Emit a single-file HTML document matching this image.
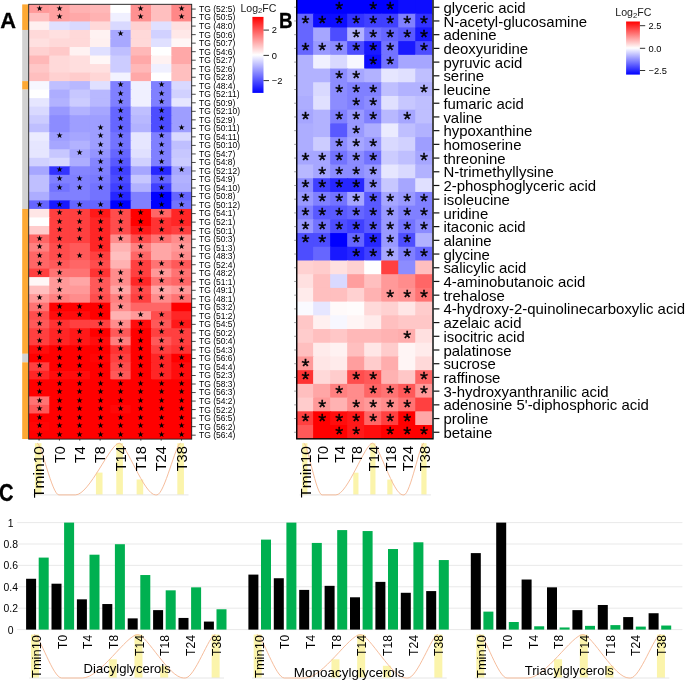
<!DOCTYPE html>
<html lang="en"><head><meta charset="utf-8"><title>Figure</title>
<style>
html,body{margin:0;padding:0;background:#fff;}
body{width:685px;height:680px;overflow:hidden;}
svg{display:block;}
text{font-family:"Liberation Sans",sans-serif;fill:#000;}
.star{font-family:"DejaVu Sans","Liberation Sans",sans-serif;}
.lab{fill:#1a1a1a;}
</style></head><body>
<svg width="685" height="680" viewBox="0 0 685 680">
<rect x="0" y="0" width="685" height="680" fill="#fff"/>
<defs>
<linearGradient id="gr" x1="0" y1="0" x2="0" y2="1">
<stop offset="0" stop-color="#ff0000"/><stop offset="0.5" stop-color="#ffffff"/><stop offset="1" stop-color="#0000ff"/>
</linearGradient></defs>
<rect x="34.88" y="443.2" width="6.6" height="51.7" fill="#fbf4ab"/>
<rect x="95.93" y="472.6" width="6.6" height="22.3" fill="#fbf4ab"/>
<rect x="116.28" y="443.2" width="6.6" height="51.7" fill="#fbf4ab"/>
<rect x="136.62" y="479.5" width="6.6" height="15.4" fill="#fbf4ab"/>
<rect x="177.33" y="443.2" width="6.6" height="51.7" fill="#fbf4ab"/>
<line x1="32.48" y1="494.9" x2="188.53" y2="494.9" stroke="#e6e6e6" stroke-width="1"/>
<path d="M37.15,443.2 C41.5,443.2 51.95,494.9 58.92,494.9 L75.41,494.9 C89.41,494.9 110.41,443.2 119.16,443.2 C126.44,443.2 143.93,494.9 155.58,494.9 L156.81,494.9 C164.42,494.9 175.85,443.2 180.61,443.2" fill="none" stroke="#f6bd9c" stroke-width="1.0"/>
<text transform="translate(44.18,446.2) rotate(-90)" text-anchor="end" font-size="15.0" textLength="51.77" lengthAdjust="spacingAndGlyphs">Tmin10</text>
<text transform="translate(64.53,446.2) rotate(-90)" text-anchor="end" font-size="15.0" textLength="16.74" lengthAdjust="spacingAndGlyphs">T0</text>
<text transform="translate(84.88,446.2) rotate(-90)" text-anchor="end" font-size="15.0" textLength="16.74" lengthAdjust="spacingAndGlyphs">T4</text>
<text transform="translate(105.23,446.2) rotate(-90)" text-anchor="end" font-size="15.0" textLength="16.74" lengthAdjust="spacingAndGlyphs">T8</text>
<text transform="translate(125.58,446.2) rotate(-90)" text-anchor="end" font-size="15.0" textLength="25.16" lengthAdjust="spacingAndGlyphs">T14</text>
<text transform="translate(145.93,446.2) rotate(-90)" text-anchor="end" font-size="15.0" textLength="25.16" lengthAdjust="spacingAndGlyphs">T18</text>
<text transform="translate(166.28,446.2) rotate(-90)" text-anchor="end" font-size="15.0" textLength="25.16" lengthAdjust="spacingAndGlyphs">T24</text>
<text transform="translate(186.63,446.2) rotate(-90)" text-anchor="end" font-size="15.0" textLength="25.16" lengthAdjust="spacingAndGlyphs">T38</text>
<rect x="22.2" y="4.4" width="6.4" height="25.57" fill="#fea934"/>
<rect x="22.2" y="29.97" width="6.4" height="51.13" fill="#d2d2d2"/>
<rect x="22.2" y="81.1" width="6.4" height="8.52" fill="#fea934"/>
<rect x="22.2" y="89.62" width="6.4" height="119.31" fill="#d2d2d2"/>
<rect x="22.2" y="208.93" width="6.4" height="144.87" fill="#fea934"/>
<rect x="22.2" y="353.8" width="6.4" height="8.52" fill="#d2d2d2"/>
<rect x="22.2" y="362.32" width="6.4" height="76.7" fill="#fea934"/>
<g>
<rect x="28.9" y="4.4" width="21.35" height="9.52" fill="#ff9999"/>
<rect x="49.25" y="4.4" width="21.35" height="9.52" fill="#ffa1a1"/>
<rect x="69.6" y="4.4" width="21.35" height="9.52" fill="#ffb2b2"/>
<rect x="89.95" y="4.4" width="21.35" height="9.52" fill="#ffb8b8"/>
<rect x="110.3" y="4.4" width="21.35" height="9.52" fill="#ffffff"/>
<rect x="130.65" y="4.4" width="21.35" height="9.52" fill="#ff9191"/>
<rect x="151" y="4.4" width="21.35" height="9.52" fill="#ffbfbf"/>
<rect x="171.35" y="4.4" width="20.35" height="9.52" fill="#ff8787"/>
<rect x="28.9" y="12.92" width="21.35" height="9.52" fill="#ffbfbf"/>
<rect x="49.25" y="12.92" width="21.35" height="9.52" fill="#ffa1a1"/>
<rect x="69.6" y="12.92" width="21.35" height="9.52" fill="#ffa8a8"/>
<rect x="89.95" y="12.92" width="21.35" height="9.52" fill="#ffb2b2"/>
<rect x="110.3" y="12.92" width="21.35" height="9.52" fill="#f0f0ff"/>
<rect x="130.65" y="12.92" width="21.35" height="9.52" fill="#ff9191"/>
<rect x="151" y="12.92" width="21.35" height="9.52" fill="#ffbfbf"/>
<rect x="171.35" y="12.92" width="20.35" height="9.52" fill="#ff8787"/>
<rect x="28.9" y="21.44" width="21.35" height="9.52" fill="#fff0f0"/>
<rect x="49.25" y="21.44" width="21.35" height="9.52" fill="#e0e0ff"/>
<rect x="69.6" y="21.44" width="21.35" height="9.52" fill="#d9d9ff"/>
<rect x="89.95" y="21.44" width="21.35" height="9.52" fill="#ffd9d9"/>
<rect x="110.3" y="21.44" width="21.35" height="9.52" fill="#d9d9ff"/>
<rect x="130.65" y="21.44" width="21.35" height="9.52" fill="#ffd1d1"/>
<rect x="151" y="21.44" width="21.35" height="9.52" fill="#e0e0ff"/>
<rect x="171.35" y="21.44" width="20.35" height="9.52" fill="#ffe0e0"/>
<rect x="28.9" y="29.97" width="21.35" height="9.52" fill="#ffd9d9"/>
<rect x="49.25" y="29.97" width="21.35" height="9.52" fill="#ffe0e0"/>
<rect x="69.6" y="29.97" width="21.35" height="9.52" fill="#ffd9d9"/>
<rect x="89.95" y="29.97" width="21.35" height="9.52" fill="#fff2f2"/>
<rect x="110.3" y="29.97" width="21.35" height="9.52" fill="#a8a8ff"/>
<rect x="130.65" y="29.97" width="21.35" height="9.52" fill="#ffd9d9"/>
<rect x="151" y="29.97" width="21.35" height="9.52" fill="#d1d1ff"/>
<rect x="171.35" y="29.97" width="20.35" height="9.52" fill="#ffe8e8"/>
<rect x="28.9" y="38.49" width="21.35" height="9.52" fill="#ffe0e0"/>
<rect x="49.25" y="38.49" width="21.35" height="9.52" fill="#ffd9d9"/>
<rect x="69.6" y="38.49" width="21.35" height="9.52" fill="#ffd9d9"/>
<rect x="89.95" y="38.49" width="21.35" height="9.52" fill="#fff0f0"/>
<rect x="110.3" y="38.49" width="21.35" height="9.52" fill="#a8a8ff"/>
<rect x="130.65" y="38.49" width="21.35" height="9.52" fill="#ffd9d9"/>
<rect x="151" y="38.49" width="21.35" height="9.52" fill="#e0e0ff"/>
<rect x="171.35" y="38.49" width="20.35" height="9.52" fill="#fff7f7"/>
<rect x="28.9" y="47.01" width="21.35" height="9.52" fill="#ffd1d1"/>
<rect x="49.25" y="47.01" width="21.35" height="9.52" fill="#ffc9c9"/>
<rect x="69.6" y="47.01" width="21.35" height="9.52" fill="#fff2f2"/>
<rect x="89.95" y="47.01" width="21.35" height="9.52" fill="#e0e0ff"/>
<rect x="110.3" y="47.01" width="21.35" height="9.52" fill="#bfbfff"/>
<rect x="130.65" y="47.01" width="21.35" height="9.52" fill="#ffb8b8"/>
<rect x="151" y="47.01" width="21.35" height="9.52" fill="#ffffff"/>
<rect x="171.35" y="47.01" width="20.35" height="9.52" fill="#ffa8a8"/>
<rect x="28.9" y="55.53" width="21.35" height="9.52" fill="#ffb8b8"/>
<rect x="49.25" y="55.53" width="21.35" height="9.52" fill="#ffd9d9"/>
<rect x="69.6" y="55.53" width="21.35" height="9.52" fill="#ffdede"/>
<rect x="89.95" y="55.53" width="21.35" height="9.52" fill="#fff7f7"/>
<rect x="110.3" y="55.53" width="21.35" height="9.52" fill="#ccccff"/>
<rect x="130.65" y="55.53" width="21.35" height="9.52" fill="#ffa8a8"/>
<rect x="151" y="55.53" width="21.35" height="9.52" fill="#fff2f2"/>
<rect x="171.35" y="55.53" width="20.35" height="9.52" fill="#ffa8a8"/>
<rect x="28.9" y="64.05" width="21.35" height="9.52" fill="#ffc7c7"/>
<rect x="49.25" y="64.05" width="21.35" height="9.52" fill="#ffd9d9"/>
<rect x="69.6" y="64.05" width="21.35" height="9.52" fill="#ffdede"/>
<rect x="89.95" y="64.05" width="21.35" height="9.52" fill="#ffe0e0"/>
<rect x="110.3" y="64.05" width="21.35" height="9.52" fill="#ccccff"/>
<rect x="130.65" y="64.05" width="21.35" height="9.52" fill="#ffb8b8"/>
<rect x="151" y="64.05" width="21.35" height="9.52" fill="#f0f0ff"/>
<rect x="171.35" y="64.05" width="20.35" height="9.52" fill="#ffbfbf"/>
<rect x="28.9" y="72.58" width="21.35" height="9.52" fill="#ffbfbf"/>
<rect x="49.25" y="72.58" width="21.35" height="9.52" fill="#ffd1d1"/>
<rect x="69.6" y="72.58" width="21.35" height="9.52" fill="#ffcccc"/>
<rect x="89.95" y="72.58" width="21.35" height="9.52" fill="#ffd6d6"/>
<rect x="110.3" y="72.58" width="21.35" height="9.52" fill="#f2f2ff"/>
<rect x="130.65" y="72.58" width="21.35" height="9.52" fill="#ffa8a8"/>
<rect x="151" y="72.58" width="21.35" height="9.52" fill="#ffffff"/>
<rect x="171.35" y="72.58" width="20.35" height="9.52" fill="#ffbfbf"/>
<rect x="28.9" y="81.1" width="21.35" height="9.52" fill="#f7f7ff"/>
<rect x="49.25" y="81.1" width="21.35" height="9.52" fill="#bfbfff"/>
<rect x="69.6" y="81.1" width="21.35" height="9.52" fill="#b8b8ff"/>
<rect x="89.95" y="81.1" width="21.35" height="9.52" fill="#e0e0ff"/>
<rect x="110.3" y="81.1" width="21.35" height="9.52" fill="#8080ff"/>
<rect x="130.65" y="81.1" width="21.35" height="9.52" fill="#f0f0ff"/>
<rect x="151" y="81.1" width="21.35" height="9.52" fill="#8080ff"/>
<rect x="171.35" y="81.1" width="20.35" height="9.52" fill="#d9d9ff"/>
<rect x="28.9" y="89.62" width="21.35" height="9.52" fill="#ffffff"/>
<rect x="49.25" y="89.62" width="21.35" height="9.52" fill="#adadff"/>
<rect x="69.6" y="89.62" width="21.35" height="9.52" fill="#c7c7ff"/>
<rect x="89.95" y="89.62" width="21.35" height="9.52" fill="#b8b8ff"/>
<rect x="110.3" y="89.62" width="21.35" height="9.52" fill="#8080ff"/>
<rect x="130.65" y="89.62" width="21.35" height="9.52" fill="#f0f0ff"/>
<rect x="151" y="89.62" width="21.35" height="9.52" fill="#8080ff"/>
<rect x="171.35" y="89.62" width="20.35" height="9.52" fill="#d1d1ff"/>
<rect x="28.9" y="98.14" width="21.35" height="9.52" fill="#e6e6ff"/>
<rect x="49.25" y="98.14" width="21.35" height="9.52" fill="#b2b2ff"/>
<rect x="69.6" y="98.14" width="21.35" height="9.52" fill="#ccccff"/>
<rect x="89.95" y="98.14" width="21.35" height="9.52" fill="#b8b8ff"/>
<rect x="110.3" y="98.14" width="21.35" height="9.52" fill="#8080ff"/>
<rect x="130.65" y="98.14" width="21.35" height="9.52" fill="#f0f0ff"/>
<rect x="151" y="98.14" width="21.35" height="9.52" fill="#8080ff"/>
<rect x="171.35" y="98.14" width="20.35" height="9.52" fill="#e6e6ff"/>
<rect x="28.9" y="106.66" width="21.35" height="9.52" fill="#d9d9ff"/>
<rect x="49.25" y="106.66" width="21.35" height="9.52" fill="#9999ff"/>
<rect x="69.6" y="106.66" width="21.35" height="9.52" fill="#b2b2ff"/>
<rect x="89.95" y="106.66" width="21.35" height="9.52" fill="#a6a6ff"/>
<rect x="110.3" y="106.66" width="21.35" height="9.52" fill="#6666ff"/>
<rect x="130.65" y="106.66" width="21.35" height="9.52" fill="#bfbfff"/>
<rect x="151" y="106.66" width="21.35" height="9.52" fill="#4d4dff"/>
<rect x="171.35" y="106.66" width="20.35" height="9.52" fill="#9e9eff"/>
<rect x="28.9" y="115.19" width="21.35" height="9.52" fill="#ccccff"/>
<rect x="49.25" y="115.19" width="21.35" height="9.52" fill="#8c8cff"/>
<rect x="69.6" y="115.19" width="21.35" height="9.52" fill="#9e9eff"/>
<rect x="89.95" y="115.19" width="21.35" height="9.52" fill="#9e9eff"/>
<rect x="110.3" y="115.19" width="21.35" height="9.52" fill="#6666ff"/>
<rect x="130.65" y="115.19" width="21.35" height="9.52" fill="#b8b8ff"/>
<rect x="151" y="115.19" width="21.35" height="9.52" fill="#4d4dff"/>
<rect x="171.35" y="115.19" width="20.35" height="9.52" fill="#9e9eff"/>
<rect x="28.9" y="123.71" width="21.35" height="9.52" fill="#bfbfff"/>
<rect x="49.25" y="123.71" width="21.35" height="9.52" fill="#8c8cff"/>
<rect x="69.6" y="123.71" width="21.35" height="9.52" fill="#9e9eff"/>
<rect x="89.95" y="123.71" width="21.35" height="9.52" fill="#9e9eff"/>
<rect x="110.3" y="123.71" width="21.35" height="9.52" fill="#6666ff"/>
<rect x="130.65" y="123.71" width="21.35" height="9.52" fill="#b2b2ff"/>
<rect x="151" y="123.71" width="21.35" height="9.52" fill="#4d4dff"/>
<rect x="171.35" y="123.71" width="20.35" height="9.52" fill="#9e9eff"/>
<rect x="28.9" y="132.23" width="21.35" height="9.52" fill="#ebebff"/>
<rect x="49.25" y="132.23" width="21.35" height="9.52" fill="#9e9eff"/>
<rect x="69.6" y="132.23" width="21.35" height="9.52" fill="#a6a6ff"/>
<rect x="89.95" y="132.23" width="21.35" height="9.52" fill="#9e9eff"/>
<rect x="110.3" y="132.23" width="21.35" height="9.52" fill="#7373ff"/>
<rect x="130.65" y="132.23" width="21.35" height="9.52" fill="#e6e6ff"/>
<rect x="151" y="132.23" width="21.35" height="9.52" fill="#8080ff"/>
<rect x="171.35" y="132.23" width="20.35" height="9.52" fill="#d9d9ff"/>
<rect x="28.9" y="140.75" width="21.35" height="9.52" fill="#e6e6ff"/>
<rect x="49.25" y="140.75" width="21.35" height="9.52" fill="#a6a6ff"/>
<rect x="69.6" y="140.75" width="21.35" height="9.52" fill="#b2b2ff"/>
<rect x="89.95" y="140.75" width="21.35" height="9.52" fill="#9e9eff"/>
<rect x="110.3" y="140.75" width="21.35" height="9.52" fill="#7373ff"/>
<rect x="130.65" y="140.75" width="21.35" height="9.52" fill="#e6e6ff"/>
<rect x="151" y="140.75" width="21.35" height="9.52" fill="#8080ff"/>
<rect x="171.35" y="140.75" width="20.35" height="9.52" fill="#bfbfff"/>
<rect x="28.9" y="149.27" width="21.35" height="9.52" fill="#e6e6ff"/>
<rect x="49.25" y="149.27" width="21.35" height="9.52" fill="#c7c7ff"/>
<rect x="69.6" y="149.27" width="21.35" height="9.52" fill="#a6a6ff"/>
<rect x="89.95" y="149.27" width="21.35" height="9.52" fill="#9494ff"/>
<rect x="110.3" y="149.27" width="21.35" height="9.52" fill="#6666ff"/>
<rect x="130.65" y="149.27" width="21.35" height="9.52" fill="#e0e0ff"/>
<rect x="151" y="149.27" width="21.35" height="9.52" fill="#8080ff"/>
<rect x="171.35" y="149.27" width="20.35" height="9.52" fill="#c7c7ff"/>
<rect x="28.9" y="157.8" width="21.35" height="9.52" fill="#d1d1ff"/>
<rect x="49.25" y="157.8" width="21.35" height="9.52" fill="#d9d9ff"/>
<rect x="69.6" y="157.8" width="21.35" height="9.52" fill="#adadff"/>
<rect x="89.95" y="157.8" width="21.35" height="9.52" fill="#8585ff"/>
<rect x="110.3" y="157.8" width="21.35" height="9.52" fill="#5959ff"/>
<rect x="130.65" y="157.8" width="21.35" height="9.52" fill="#d1d1ff"/>
<rect x="151" y="157.8" width="21.35" height="9.52" fill="#8080ff"/>
<rect x="171.35" y="157.8" width="20.35" height="9.52" fill="#ccccff"/>
<rect x="28.9" y="166.32" width="21.35" height="9.52" fill="#a6a6ff"/>
<rect x="49.25" y="166.32" width="21.35" height="9.52" fill="#3333ff"/>
<rect x="69.6" y="166.32" width="21.35" height="9.52" fill="#8585ff"/>
<rect x="89.95" y="166.32" width="21.35" height="9.52" fill="#8080ff"/>
<rect x="110.3" y="166.32" width="21.35" height="9.52" fill="#4040ff"/>
<rect x="130.65" y="166.32" width="21.35" height="9.52" fill="#a6a6ff"/>
<rect x="151" y="166.32" width="21.35" height="9.52" fill="#2626ff"/>
<rect x="171.35" y="166.32" width="20.35" height="9.52" fill="#a6a6ff"/>
<rect x="28.9" y="174.84" width="21.35" height="9.52" fill="#bfbfff"/>
<rect x="49.25" y="174.84" width="21.35" height="9.52" fill="#8080ff"/>
<rect x="69.6" y="174.84" width="21.35" height="9.52" fill="#8080ff"/>
<rect x="89.95" y="174.84" width="21.35" height="9.52" fill="#7a7aff"/>
<rect x="110.3" y="174.84" width="21.35" height="9.52" fill="#4d4dff"/>
<rect x="130.65" y="174.84" width="21.35" height="9.52" fill="#c7c7ff"/>
<rect x="151" y="174.84" width="21.35" height="9.52" fill="#6666ff"/>
<rect x="171.35" y="174.84" width="20.35" height="9.52" fill="#b2b2ff"/>
<rect x="28.9" y="183.36" width="21.35" height="9.52" fill="#bfbfff"/>
<rect x="49.25" y="183.36" width="21.35" height="9.52" fill="#7373ff"/>
<rect x="69.6" y="183.36" width="21.35" height="9.52" fill="#8080ff"/>
<rect x="89.95" y="183.36" width="21.35" height="9.52" fill="#7373ff"/>
<rect x="110.3" y="183.36" width="21.35" height="9.52" fill="#4040ff"/>
<rect x="130.65" y="183.36" width="21.35" height="9.52" fill="#b2b2ff"/>
<rect x="151" y="183.36" width="21.35" height="9.52" fill="#4040ff"/>
<rect x="171.35" y="183.36" width="20.35" height="9.52" fill="#adadff"/>
<rect x="28.9" y="191.88" width="21.35" height="9.52" fill="#adadff"/>
<rect x="49.25" y="191.88" width="21.35" height="9.52" fill="#8080ff"/>
<rect x="69.6" y="191.88" width="21.35" height="9.52" fill="#8080ff"/>
<rect x="89.95" y="191.88" width="21.35" height="9.52" fill="#7373ff"/>
<rect x="110.3" y="191.88" width="21.35" height="9.52" fill="#2626ff"/>
<rect x="130.65" y="191.88" width="21.35" height="9.52" fill="#8080ff"/>
<rect x="151" y="191.88" width="21.35" height="9.52" fill="#0000ff"/>
<rect x="171.35" y="191.88" width="20.35" height="9.52" fill="#6666ff"/>
<rect x="28.9" y="200.41" width="21.35" height="9.52" fill="#6666ff"/>
<rect x="49.25" y="200.41" width="21.35" height="9.52" fill="#1919ff"/>
<rect x="69.6" y="200.41" width="21.35" height="9.52" fill="#6666ff"/>
<rect x="89.95" y="200.41" width="21.35" height="9.52" fill="#6666ff"/>
<rect x="110.3" y="200.41" width="21.35" height="9.52" fill="#0000ff"/>
<rect x="130.65" y="200.41" width="21.35" height="9.52" fill="#8080ff"/>
<rect x="151" y="200.41" width="21.35" height="9.52" fill="#0000ff"/>
<rect x="171.35" y="200.41" width="20.35" height="9.52" fill="#7373ff"/>
<rect x="28.9" y="208.93" width="21.35" height="9.52" fill="#ffe6e6"/>
<rect x="49.25" y="208.93" width="21.35" height="9.52" fill="#ff4040"/>
<rect x="69.6" y="208.93" width="21.35" height="9.52" fill="#ff4040"/>
<rect x="89.95" y="208.93" width="21.35" height="9.52" fill="#ff1919"/>
<rect x="110.3" y="208.93" width="21.35" height="9.52" fill="#ff4d4d"/>
<rect x="130.65" y="208.93" width="21.35" height="9.52" fill="#ff0000"/>
<rect x="151" y="208.93" width="21.35" height="9.52" fill="#ff6666"/>
<rect x="171.35" y="208.93" width="20.35" height="9.52" fill="#ff2626"/>
<rect x="28.9" y="217.45" width="21.35" height="9.52" fill="#ffffff"/>
<rect x="49.25" y="217.45" width="21.35" height="9.52" fill="#ff4040"/>
<rect x="69.6" y="217.45" width="21.35" height="9.52" fill="#ff4040"/>
<rect x="89.95" y="217.45" width="21.35" height="9.52" fill="#ff2626"/>
<rect x="110.3" y="217.45" width="21.35" height="9.52" fill="#ff4d4d"/>
<rect x="130.65" y="217.45" width="21.35" height="9.52" fill="#ff0000"/>
<rect x="151" y="217.45" width="21.35" height="9.52" fill="#ff3333"/>
<rect x="171.35" y="217.45" width="20.35" height="9.52" fill="#ff2626"/>
<rect x="28.9" y="225.97" width="21.35" height="9.52" fill="#ffcccc"/>
<rect x="49.25" y="225.97" width="21.35" height="9.52" fill="#ff4040"/>
<rect x="69.6" y="225.97" width="21.35" height="9.52" fill="#ff4040"/>
<rect x="89.95" y="225.97" width="21.35" height="9.52" fill="#ff2626"/>
<rect x="110.3" y="225.97" width="21.35" height="9.52" fill="#ff4d4d"/>
<rect x="130.65" y="225.97" width="21.35" height="9.52" fill="#ff1919"/>
<rect x="151" y="225.97" width="21.35" height="9.52" fill="#ff3333"/>
<rect x="171.35" y="225.97" width="20.35" height="9.52" fill="#ff4040"/>
<rect x="28.9" y="234.49" width="21.35" height="9.52" fill="#ff6666"/>
<rect x="49.25" y="234.49" width="21.35" height="9.52" fill="#ff4040"/>
<rect x="69.6" y="234.49" width="21.35" height="9.52" fill="#ff4040"/>
<rect x="89.95" y="234.49" width="21.35" height="9.52" fill="#ff2626"/>
<rect x="110.3" y="234.49" width="21.35" height="9.52" fill="#ff8c8c"/>
<rect x="130.65" y="234.49" width="21.35" height="9.52" fill="#ff4d4d"/>
<rect x="151" y="234.49" width="21.35" height="9.52" fill="#ff7373"/>
<rect x="171.35" y="234.49" width="20.35" height="9.52" fill="#ff8c8c"/>
<rect x="28.9" y="243.02" width="21.35" height="9.52" fill="#ff8080"/>
<rect x="49.25" y="243.02" width="21.35" height="9.52" fill="#ff4d4d"/>
<rect x="69.6" y="243.02" width="21.35" height="9.52" fill="#ff5959"/>
<rect x="89.95" y="243.02" width="21.35" height="9.52" fill="#ff2626"/>
<rect x="110.3" y="243.02" width="21.35" height="9.52" fill="#ffb2b2"/>
<rect x="130.65" y="243.02" width="21.35" height="9.52" fill="#ff8080"/>
<rect x="151" y="243.02" width="21.35" height="9.52" fill="#ffa6a6"/>
<rect x="171.35" y="243.02" width="20.35" height="9.52" fill="#ff9999"/>
<rect x="28.9" y="251.54" width="21.35" height="9.52" fill="#ff6666"/>
<rect x="49.25" y="251.54" width="21.35" height="9.52" fill="#ff4d4d"/>
<rect x="69.6" y="251.54" width="21.35" height="9.52" fill="#ff5959"/>
<rect x="89.95" y="251.54" width="21.35" height="9.52" fill="#ff4040"/>
<rect x="110.3" y="251.54" width="21.35" height="9.52" fill="#ffbfbf"/>
<rect x="130.65" y="251.54" width="21.35" height="9.52" fill="#ff6666"/>
<rect x="151" y="251.54" width="21.35" height="9.52" fill="#ffa6a6"/>
<rect x="171.35" y="251.54" width="20.35" height="9.52" fill="#ff8c8c"/>
<rect x="28.9" y="260.06" width="21.35" height="9.52" fill="#ff6666"/>
<rect x="49.25" y="260.06" width="21.35" height="9.52" fill="#ff5959"/>
<rect x="69.6" y="260.06" width="21.35" height="9.52" fill="#ff6666"/>
<rect x="89.95" y="260.06" width="21.35" height="9.52" fill="#ff4d4d"/>
<rect x="110.3" y="260.06" width="21.35" height="9.52" fill="#ffb2b2"/>
<rect x="130.65" y="260.06" width="21.35" height="9.52" fill="#ff4040"/>
<rect x="151" y="260.06" width="21.35" height="9.52" fill="#ff7373"/>
<rect x="171.35" y="260.06" width="20.35" height="9.52" fill="#ff5959"/>
<rect x="28.9" y="268.58" width="21.35" height="9.52" fill="#ff4040"/>
<rect x="49.25" y="268.58" width="21.35" height="9.52" fill="#ff7373"/>
<rect x="69.6" y="268.58" width="21.35" height="9.52" fill="#ff7373"/>
<rect x="89.95" y="268.58" width="21.35" height="9.52" fill="#ff3333"/>
<rect x="110.3" y="268.58" width="21.35" height="9.52" fill="#ff8c8c"/>
<rect x="130.65" y="268.58" width="21.35" height="9.52" fill="#ff4040"/>
<rect x="151" y="268.58" width="21.35" height="9.52" fill="#ff9999"/>
<rect x="171.35" y="268.58" width="20.35" height="9.52" fill="#ff7373"/>
<rect x="28.9" y="277.1" width="21.35" height="9.52" fill="#fff7f7"/>
<rect x="49.25" y="277.1" width="21.35" height="9.52" fill="#ff9999"/>
<rect x="69.6" y="277.1" width="21.35" height="9.52" fill="#ffa6a6"/>
<rect x="89.95" y="277.1" width="21.35" height="9.52" fill="#ff5959"/>
<rect x="110.3" y="277.1" width="21.35" height="9.52" fill="#ff8c8c"/>
<rect x="130.65" y="277.1" width="21.35" height="9.52" fill="#ff2626"/>
<rect x="151" y="277.1" width="21.35" height="9.52" fill="#ff7373"/>
<rect x="171.35" y="277.1" width="20.35" height="9.52" fill="#ff6666"/>
<rect x="28.9" y="285.63" width="21.35" height="9.52" fill="#ffbfbf"/>
<rect x="49.25" y="285.63" width="21.35" height="9.52" fill="#ff9999"/>
<rect x="69.6" y="285.63" width="21.35" height="9.52" fill="#ff9999"/>
<rect x="89.95" y="285.63" width="21.35" height="9.52" fill="#ff5959"/>
<rect x="110.3" y="285.63" width="21.35" height="9.52" fill="#ffa6a6"/>
<rect x="130.65" y="285.63" width="21.35" height="9.52" fill="#ff4d4d"/>
<rect x="151" y="285.63" width="21.35" height="9.52" fill="#ffa6a6"/>
<rect x="171.35" y="285.63" width="20.35" height="9.52" fill="#ff9999"/>
<rect x="28.9" y="294.15" width="21.35" height="9.52" fill="#ff9999"/>
<rect x="49.25" y="294.15" width="21.35" height="9.52" fill="#ff8080"/>
<rect x="69.6" y="294.15" width="21.35" height="9.52" fill="#ff8c8c"/>
<rect x="89.95" y="294.15" width="21.35" height="9.52" fill="#ff4d4d"/>
<rect x="110.3" y="294.15" width="21.35" height="9.52" fill="#ff8080"/>
<rect x="130.65" y="294.15" width="21.35" height="9.52" fill="#ff4040"/>
<rect x="151" y="294.15" width="21.35" height="9.52" fill="#ff8c8c"/>
<rect x="171.35" y="294.15" width="20.35" height="9.52" fill="#ff7373"/>
<rect x="28.9" y="302.67" width="21.35" height="9.52" fill="#ff7373"/>
<rect x="49.25" y="302.67" width="21.35" height="9.52" fill="#ff0000"/>
<rect x="69.6" y="302.67" width="21.35" height="9.52" fill="#ff0000"/>
<rect x="89.95" y="302.67" width="21.35" height="9.52" fill="#ff0000"/>
<rect x="110.3" y="302.67" width="21.35" height="9.52" fill="#ff8c8c"/>
<rect x="130.65" y="302.67" width="21.35" height="9.52" fill="#ff6666"/>
<rect x="151" y="302.67" width="21.35" height="9.52" fill="#ff6666"/>
<rect x="171.35" y="302.67" width="20.35" height="9.52" fill="#ff0000"/>
<rect x="28.9" y="311.19" width="21.35" height="9.52" fill="#ff4d4d"/>
<rect x="49.25" y="311.19" width="21.35" height="9.52" fill="#ff0d0d"/>
<rect x="69.6" y="311.19" width="21.35" height="9.52" fill="#ff0d0d"/>
<rect x="89.95" y="311.19" width="21.35" height="9.52" fill="#ff0000"/>
<rect x="110.3" y="311.19" width="21.35" height="9.52" fill="#ffb2b2"/>
<rect x="130.65" y="311.19" width="21.35" height="9.52" fill="#ff9999"/>
<rect x="151" y="311.19" width="21.35" height="9.52" fill="#ff4d4d"/>
<rect x="171.35" y="311.19" width="20.35" height="9.52" fill="#ff2626"/>
<rect x="28.9" y="319.71" width="21.35" height="9.52" fill="#ff5959"/>
<rect x="49.25" y="319.71" width="21.35" height="9.52" fill="#ff3333"/>
<rect x="69.6" y="319.71" width="21.35" height="9.52" fill="#ff4040"/>
<rect x="89.95" y="319.71" width="21.35" height="9.52" fill="#ff4040"/>
<rect x="110.3" y="319.71" width="21.35" height="9.52" fill="#ff8c8c"/>
<rect x="130.65" y="319.71" width="21.35" height="9.52" fill="#ff0d0d"/>
<rect x="151" y="319.71" width="21.35" height="9.52" fill="#ff5959"/>
<rect x="171.35" y="319.71" width="20.35" height="9.52" fill="#ff1919"/>
<rect x="28.9" y="328.24" width="21.35" height="9.52" fill="#ff4040"/>
<rect x="49.25" y="328.24" width="21.35" height="9.52" fill="#ff2626"/>
<rect x="69.6" y="328.24" width="21.35" height="9.52" fill="#ff1919"/>
<rect x="89.95" y="328.24" width="21.35" height="9.52" fill="#ff0000"/>
<rect x="110.3" y="328.24" width="21.35" height="9.52" fill="#ff5959"/>
<rect x="130.65" y="328.24" width="21.35" height="9.52" fill="#ff0000"/>
<rect x="151" y="328.24" width="21.35" height="9.52" fill="#ff4040"/>
<rect x="171.35" y="328.24" width="20.35" height="9.52" fill="#ff4040"/>
<rect x="28.9" y="336.76" width="21.35" height="9.52" fill="#ff4040"/>
<rect x="49.25" y="336.76" width="21.35" height="9.52" fill="#ff2626"/>
<rect x="69.6" y="336.76" width="21.35" height="9.52" fill="#ff1919"/>
<rect x="89.95" y="336.76" width="21.35" height="9.52" fill="#ff0d0d"/>
<rect x="110.3" y="336.76" width="21.35" height="9.52" fill="#ff8080"/>
<rect x="130.65" y="336.76" width="21.35" height="9.52" fill="#ff0000"/>
<rect x="151" y="336.76" width="21.35" height="9.52" fill="#ff5959"/>
<rect x="171.35" y="336.76" width="20.35" height="9.52" fill="#ff4040"/>
<rect x="28.9" y="345.28" width="21.35" height="9.52" fill="#ff0d0d"/>
<rect x="49.25" y="345.28" width="21.35" height="9.52" fill="#ff0000"/>
<rect x="69.6" y="345.28" width="21.35" height="9.52" fill="#ff0000"/>
<rect x="89.95" y="345.28" width="21.35" height="9.52" fill="#ff0000"/>
<rect x="110.3" y="345.28" width="21.35" height="9.52" fill="#ff3333"/>
<rect x="130.65" y="345.28" width="21.35" height="9.52" fill="#ff0000"/>
<rect x="151" y="345.28" width="21.35" height="9.52" fill="#ff4040"/>
<rect x="171.35" y="345.28" width="20.35" height="9.52" fill="#ff3333"/>
<rect x="28.9" y="353.8" width="21.35" height="9.52" fill="#ff0000"/>
<rect x="49.25" y="353.8" width="21.35" height="9.52" fill="#ff0000"/>
<rect x="69.6" y="353.8" width="21.35" height="9.52" fill="#ff0000"/>
<rect x="89.95" y="353.8" width="21.35" height="9.52" fill="#ff0505"/>
<rect x="110.3" y="353.8" width="21.35" height="9.52" fill="#ff4040"/>
<rect x="130.65" y="353.8" width="21.35" height="9.52" fill="#ff0000"/>
<rect x="151" y="353.8" width="21.35" height="9.52" fill="#ff2626"/>
<rect x="171.35" y="353.8" width="20.35" height="9.52" fill="#ff0000"/>
<rect x="28.9" y="362.32" width="21.35" height="9.52" fill="#ff4040"/>
<rect x="49.25" y="362.32" width="21.35" height="9.52" fill="#ff0000"/>
<rect x="69.6" y="362.32" width="21.35" height="9.52" fill="#ff0000"/>
<rect x="89.95" y="362.32" width="21.35" height="9.52" fill="#ff0000"/>
<rect x="110.3" y="362.32" width="21.35" height="9.52" fill="#ff4d4d"/>
<rect x="130.65" y="362.32" width="21.35" height="9.52" fill="#ff0000"/>
<rect x="151" y="362.32" width="21.35" height="9.52" fill="#ff2626"/>
<rect x="171.35" y="362.32" width="20.35" height="9.52" fill="#ff0d0d"/>
<rect x="28.9" y="370.85" width="21.35" height="9.52" fill="#ff2626"/>
<rect x="49.25" y="370.85" width="21.35" height="9.52" fill="#ff0d0d"/>
<rect x="69.6" y="370.85" width="21.35" height="9.52" fill="#ff0d0d"/>
<rect x="89.95" y="370.85" width="21.35" height="9.52" fill="#ff0000"/>
<rect x="110.3" y="370.85" width="21.35" height="9.52" fill="#ff5959"/>
<rect x="130.65" y="370.85" width="21.35" height="9.52" fill="#ff0000"/>
<rect x="151" y="370.85" width="21.35" height="9.52" fill="#ff2626"/>
<rect x="171.35" y="370.85" width="20.35" height="9.52" fill="#ff0d0d"/>
<rect x="28.9" y="379.37" width="21.35" height="9.52" fill="#ff0000"/>
<rect x="49.25" y="379.37" width="21.35" height="9.52" fill="#ff0000"/>
<rect x="69.6" y="379.37" width="21.35" height="9.52" fill="#ff0000"/>
<rect x="89.95" y="379.37" width="21.35" height="9.52" fill="#ff0000"/>
<rect x="110.3" y="379.37" width="21.35" height="9.52" fill="#ff0000"/>
<rect x="130.65" y="379.37" width="21.35" height="9.52" fill="#ff0000"/>
<rect x="151" y="379.37" width="21.35" height="9.52" fill="#ff0000"/>
<rect x="171.35" y="379.37" width="20.35" height="9.52" fill="#ff0000"/>
<rect x="28.9" y="387.89" width="21.35" height="9.52" fill="#ff0000"/>
<rect x="49.25" y="387.89" width="21.35" height="9.52" fill="#ff0000"/>
<rect x="69.6" y="387.89" width="21.35" height="9.52" fill="#ff0000"/>
<rect x="89.95" y="387.89" width="21.35" height="9.52" fill="#ff0000"/>
<rect x="110.3" y="387.89" width="21.35" height="9.52" fill="#ff0000"/>
<rect x="130.65" y="387.89" width="21.35" height="9.52" fill="#ff0000"/>
<rect x="151" y="387.89" width="21.35" height="9.52" fill="#ff0000"/>
<rect x="171.35" y="387.89" width="20.35" height="9.52" fill="#ff0000"/>
<rect x="28.9" y="396.41" width="21.35" height="9.52" fill="#ff7373"/>
<rect x="49.25" y="396.41" width="21.35" height="9.52" fill="#ff0000"/>
<rect x="69.6" y="396.41" width="21.35" height="9.52" fill="#ff0000"/>
<rect x="89.95" y="396.41" width="21.35" height="9.52" fill="#ff0000"/>
<rect x="110.3" y="396.41" width="21.35" height="9.52" fill="#ff0000"/>
<rect x="130.65" y="396.41" width="21.35" height="9.52" fill="#ff0000"/>
<rect x="151" y="396.41" width="21.35" height="9.52" fill="#ff0000"/>
<rect x="171.35" y="396.41" width="20.35" height="9.52" fill="#ff0000"/>
<rect x="28.9" y="404.93" width="21.35" height="9.52" fill="#ff5959"/>
<rect x="49.25" y="404.93" width="21.35" height="9.52" fill="#ff0000"/>
<rect x="69.6" y="404.93" width="21.35" height="9.52" fill="#ff0000"/>
<rect x="89.95" y="404.93" width="21.35" height="9.52" fill="#ff0000"/>
<rect x="110.3" y="404.93" width="21.35" height="9.52" fill="#ff0808"/>
<rect x="130.65" y="404.93" width="21.35" height="9.52" fill="#ff0000"/>
<rect x="151" y="404.93" width="21.35" height="9.52" fill="#ff0000"/>
<rect x="171.35" y="404.93" width="20.35" height="9.52" fill="#ff0000"/>
<rect x="28.9" y="413.46" width="21.35" height="9.52" fill="#ff0000"/>
<rect x="49.25" y="413.46" width="21.35" height="9.52" fill="#ff0000"/>
<rect x="69.6" y="413.46" width="21.35" height="9.52" fill="#ff0000"/>
<rect x="89.95" y="413.46" width="21.35" height="9.52" fill="#ff0000"/>
<rect x="110.3" y="413.46" width="21.35" height="9.52" fill="#ff0000"/>
<rect x="130.65" y="413.46" width="21.35" height="9.52" fill="#ff0000"/>
<rect x="151" y="413.46" width="21.35" height="9.52" fill="#ff0000"/>
<rect x="171.35" y="413.46" width="20.35" height="9.52" fill="#ff0000"/>
<rect x="28.9" y="421.98" width="21.35" height="9.52" fill="#ff0505"/>
<rect x="49.25" y="421.98" width="21.35" height="9.52" fill="#ff0000"/>
<rect x="69.6" y="421.98" width="21.35" height="9.52" fill="#ff0000"/>
<rect x="89.95" y="421.98" width="21.35" height="9.52" fill="#ff0000"/>
<rect x="110.3" y="421.98" width="21.35" height="9.52" fill="#ff0000"/>
<rect x="130.65" y="421.98" width="21.35" height="9.52" fill="#ff0000"/>
<rect x="151" y="421.98" width="21.35" height="9.52" fill="#ff0000"/>
<rect x="171.35" y="421.98" width="20.35" height="9.52" fill="#ff0000"/>
<rect x="28.9" y="430.5" width="21.35" height="8.52" fill="#ff0000"/>
<rect x="49.25" y="430.5" width="21.35" height="8.52" fill="#ff0000"/>
<rect x="69.6" y="430.5" width="21.35" height="8.52" fill="#ff0000"/>
<rect x="89.95" y="430.5" width="21.35" height="8.52" fill="#ff0000"/>
<rect x="110.3" y="430.5" width="21.35" height="8.52" fill="#ff0000"/>
<rect x="130.65" y="430.5" width="21.35" height="8.52" fill="#ff0000"/>
<rect x="151" y="430.5" width="21.35" height="8.52" fill="#ff0000"/>
<rect x="171.35" y="430.5" width="20.35" height="8.52" fill="#ff0000"/>
</g>
<rect x="28.7" y="4.3" width="163" height="434.82" fill="none" stroke="#1a1a1a" stroke-width="0.9"/>
<g class="star" font-size="8.2" text-anchor="middle">
<text x="39.18" y="10.56">★</text>
<text x="59.52" y="10.56">★</text>
<text x="140.93" y="10.56">★</text>
<text x="181.62" y="10.56">★</text>
<text x="59.52" y="19.08">★</text>
<text x="140.93" y="19.08">★</text>
<text x="181.62" y="19.08">★</text>
<text x="120.57" y="36.13">★</text>
<text x="120.57" y="87.26">★</text>
<text x="161.28" y="87.26">★</text>
<text x="120.57" y="95.78">★</text>
<text x="161.28" y="95.78">★</text>
<text x="120.57" y="104.3">★</text>
<text x="161.28" y="104.3">★</text>
<text x="120.57" y="112.83">★</text>
<text x="161.28" y="112.83">★</text>
<text x="120.57" y="121.35">★</text>
<text x="161.28" y="121.35">★</text>
<text x="100.22" y="129.87">★</text>
<text x="120.57" y="129.87">★</text>
<text x="161.28" y="129.87">★</text>
<text x="181.62" y="129.87">★</text>
<text x="59.52" y="138.39">★</text>
<text x="100.22" y="138.39">★</text>
<text x="120.57" y="138.39">★</text>
<text x="161.28" y="138.39">★</text>
<text x="100.22" y="146.91">★</text>
<text x="120.57" y="146.91">★</text>
<text x="161.28" y="146.91">★</text>
<text x="79.88" y="155.44">★</text>
<text x="100.22" y="155.44">★</text>
<text x="120.57" y="155.44">★</text>
<text x="161.28" y="155.44">★</text>
<text x="100.22" y="163.96">★</text>
<text x="120.57" y="163.96">★</text>
<text x="161.28" y="163.96">★</text>
<text x="59.52" y="172.48">★</text>
<text x="100.22" y="172.48">★</text>
<text x="120.57" y="172.48">★</text>
<text x="161.28" y="172.48">★</text>
<text x="181.62" y="172.48">★</text>
<text x="59.52" y="181">★</text>
<text x="79.88" y="181">★</text>
<text x="100.22" y="181">★</text>
<text x="120.57" y="181">★</text>
<text x="161.28" y="181">★</text>
<text x="59.52" y="189.52">★</text>
<text x="79.88" y="189.52">★</text>
<text x="100.22" y="189.52">★</text>
<text x="120.57" y="189.52">★</text>
<text x="161.28" y="189.52">★</text>
<text x="120.57" y="198.05">★</text>
<text x="161.28" y="198.05">★</text>
<text x="181.62" y="198.05">★</text>
<text x="39.18" y="206.57">★</text>
<text x="59.52" y="206.57">★</text>
<text x="79.88" y="206.57">★</text>
<text x="100.22" y="206.57">★</text>
<text x="120.57" y="206.57">★</text>
<text x="161.28" y="206.57">★</text>
<text x="181.62" y="206.57">★</text>
<text x="59.52" y="215.09">★</text>
<text x="79.88" y="215.09">★</text>
<text x="100.22" y="215.09">★</text>
<text x="120.57" y="215.09">★</text>
<text x="140.93" y="215.09">★</text>
<text x="161.28" y="215.09">★</text>
<text x="181.62" y="215.09">★</text>
<text x="59.52" y="223.61">★</text>
<text x="79.88" y="223.61">★</text>
<text x="100.22" y="223.61">★</text>
<text x="120.57" y="223.61">★</text>
<text x="140.93" y="223.61">★</text>
<text x="161.28" y="223.61">★</text>
<text x="181.62" y="223.61">★</text>
<text x="59.52" y="232.13">★</text>
<text x="79.88" y="232.13">★</text>
<text x="100.22" y="232.13">★</text>
<text x="120.57" y="232.13">★</text>
<text x="140.93" y="232.13">★</text>
<text x="161.28" y="232.13">★</text>
<text x="181.62" y="232.13">★</text>
<text x="39.18" y="240.66">★</text>
<text x="59.52" y="240.66">★</text>
<text x="79.88" y="240.66">★</text>
<text x="100.22" y="240.66">★</text>
<text x="120.57" y="240.66">★</text>
<text x="140.93" y="240.66">★</text>
<text x="161.28" y="240.66">★</text>
<text x="181.62" y="240.66">★</text>
<text x="39.18" y="249.18">★</text>
<text x="59.52" y="249.18">★</text>
<text x="100.22" y="249.18">★</text>
<text x="140.93" y="249.18">★</text>
<text x="181.62" y="249.18">★</text>
<text x="39.18" y="257.7">★</text>
<text x="59.52" y="257.7">★</text>
<text x="79.88" y="257.7">★</text>
<text x="100.22" y="257.7">★</text>
<text x="140.93" y="257.7">★</text>
<text x="181.62" y="257.7">★</text>
<text x="39.18" y="266.22">★</text>
<text x="59.52" y="266.22">★</text>
<text x="100.22" y="266.22">★</text>
<text x="140.93" y="266.22">★</text>
<text x="161.28" y="266.22">★</text>
<text x="181.62" y="266.22">★</text>
<text x="39.18" y="274.74">★</text>
<text x="59.52" y="274.74">★</text>
<text x="100.22" y="274.74">★</text>
<text x="120.57" y="274.74">★</text>
<text x="140.93" y="274.74">★</text>
<text x="161.28" y="274.74">★</text>
<text x="181.62" y="274.74">★</text>
<text x="59.52" y="283.26">★</text>
<text x="100.22" y="283.26">★</text>
<text x="120.57" y="283.26">★</text>
<text x="140.93" y="283.26">★</text>
<text x="161.28" y="283.26">★</text>
<text x="181.62" y="283.26">★</text>
<text x="59.52" y="291.79">★</text>
<text x="100.22" y="291.79">★</text>
<text x="120.57" y="291.79">★</text>
<text x="140.93" y="291.79">★</text>
<text x="161.28" y="291.79">★</text>
<text x="181.62" y="291.79">★</text>
<text x="39.18" y="300.31">★</text>
<text x="59.52" y="300.31">★</text>
<text x="100.22" y="300.31">★</text>
<text x="120.57" y="300.31">★</text>
<text x="140.93" y="300.31">★</text>
<text x="161.28" y="300.31">★</text>
<text x="181.62" y="300.31">★</text>
<text x="39.18" y="308.83">★</text>
<text x="59.52" y="308.83">★</text>
<text x="79.88" y="308.83">★</text>
<text x="100.22" y="308.83">★</text>
<text x="120.57" y="308.83">★</text>
<text x="39.18" y="317.35">★</text>
<text x="59.52" y="317.35">★</text>
<text x="79.88" y="317.35">★</text>
<text x="100.22" y="317.35">★</text>
<text x="140.93" y="317.35">★</text>
<text x="161.28" y="317.35">★</text>
<text x="39.18" y="325.87">★</text>
<text x="59.52" y="325.87">★</text>
<text x="100.22" y="325.87">★</text>
<text x="120.57" y="325.87">★</text>
<text x="140.93" y="325.87">★</text>
<text x="161.28" y="325.87">★</text>
<text x="181.62" y="325.87">★</text>
<text x="39.18" y="334.4">★</text>
<text x="59.52" y="334.4">★</text>
<text x="79.88" y="334.4">★</text>
<text x="100.22" y="334.4">★</text>
<text x="120.57" y="334.4">★</text>
<text x="140.93" y="334.4">★</text>
<text x="161.28" y="334.4">★</text>
<text x="181.62" y="334.4">★</text>
<text x="39.18" y="342.92">★</text>
<text x="59.52" y="342.92">★</text>
<text x="79.88" y="342.92">★</text>
<text x="100.22" y="342.92">★</text>
<text x="120.57" y="342.92">★</text>
<text x="140.93" y="342.92">★</text>
<text x="161.28" y="342.92">★</text>
<text x="181.62" y="342.92">★</text>
<text x="39.18" y="351.44">★</text>
<text x="59.52" y="351.44">★</text>
<text x="79.88" y="351.44">★</text>
<text x="100.22" y="351.44">★</text>
<text x="120.57" y="351.44">★</text>
<text x="140.93" y="351.44">★</text>
<text x="161.28" y="351.44">★</text>
<text x="181.62" y="351.44">★</text>
<text x="39.18" y="359.96">★</text>
<text x="59.52" y="359.96">★</text>
<text x="79.88" y="359.96">★</text>
<text x="100.22" y="359.96">★</text>
<text x="120.57" y="359.96">★</text>
<text x="140.93" y="359.96">★</text>
<text x="161.28" y="359.96">★</text>
<text x="181.62" y="359.96">★</text>
<text x="39.18" y="368.48">★</text>
<text x="59.52" y="368.48">★</text>
<text x="79.88" y="368.48">★</text>
<text x="100.22" y="368.48">★</text>
<text x="120.57" y="368.48">★</text>
<text x="140.93" y="368.48">★</text>
<text x="161.28" y="368.48">★</text>
<text x="181.62" y="368.48">★</text>
<text x="39.18" y="377.01">★</text>
<text x="59.52" y="377.01">★</text>
<text x="79.88" y="377.01">★</text>
<text x="100.22" y="377.01">★</text>
<text x="120.57" y="377.01">★</text>
<text x="140.93" y="377.01">★</text>
<text x="161.28" y="377.01">★</text>
<text x="181.62" y="377.01">★</text>
<text x="39.18" y="385.53">★</text>
<text x="59.52" y="385.53">★</text>
<text x="79.88" y="385.53">★</text>
<text x="100.22" y="385.53">★</text>
<text x="120.57" y="385.53">★</text>
<text x="140.93" y="385.53">★</text>
<text x="161.28" y="385.53">★</text>
<text x="181.62" y="385.53">★</text>
<text x="39.18" y="394.05">★</text>
<text x="59.52" y="394.05">★</text>
<text x="79.88" y="394.05">★</text>
<text x="100.22" y="394.05">★</text>
<text x="120.57" y="394.05">★</text>
<text x="140.93" y="394.05">★</text>
<text x="161.28" y="394.05">★</text>
<text x="181.62" y="394.05">★</text>
<text x="39.18" y="402.57">★</text>
<text x="59.52" y="402.57">★</text>
<text x="79.88" y="402.57">★</text>
<text x="100.22" y="402.57">★</text>
<text x="120.57" y="402.57">★</text>
<text x="140.93" y="402.57">★</text>
<text x="161.28" y="402.57">★</text>
<text x="181.62" y="402.57">★</text>
<text x="39.18" y="411.09">★</text>
<text x="59.52" y="411.09">★</text>
<text x="79.88" y="411.09">★</text>
<text x="100.22" y="411.09">★</text>
<text x="120.57" y="411.09">★</text>
<text x="140.93" y="411.09">★</text>
<text x="161.28" y="411.09">★</text>
<text x="181.62" y="411.09">★</text>
<text x="39.18" y="419.62">★</text>
<text x="59.52" y="419.62">★</text>
<text x="79.88" y="419.62">★</text>
<text x="100.22" y="419.62">★</text>
<text x="120.57" y="419.62">★</text>
<text x="140.93" y="419.62">★</text>
<text x="161.28" y="419.62">★</text>
<text x="181.62" y="419.62">★</text>
<text x="39.18" y="428.14">★</text>
<text x="59.52" y="428.14">★</text>
<text x="79.88" y="428.14">★</text>
<text x="100.22" y="428.14">★</text>
<text x="120.57" y="428.14">★</text>
<text x="140.93" y="428.14">★</text>
<text x="161.28" y="428.14">★</text>
<text x="181.62" y="428.14">★</text>
<text x="39.18" y="436.66">★</text>
<text x="59.52" y="436.66">★</text>
<text x="79.88" y="436.66">★</text>
<text x="100.22" y="436.66">★</text>
<text x="120.57" y="436.66">★</text>
<text x="140.93" y="436.66">★</text>
<text x="161.28" y="436.66">★</text>
<text x="181.62" y="436.66">★</text>
</g>
<g stroke="#1a1a1a" stroke-width="0.8">
<line x1="191.7" y1="9.06" x2="195.7" y2="9.06"/>
<line x1="191.7" y1="17.58" x2="195.7" y2="17.58"/>
<line x1="191.7" y1="26.1" x2="195.7" y2="26.1"/>
<line x1="191.7" y1="34.63" x2="195.7" y2="34.63"/>
<line x1="191.7" y1="43.15" x2="195.7" y2="43.15"/>
<line x1="191.7" y1="51.67" x2="195.7" y2="51.67"/>
<line x1="191.7" y1="60.19" x2="195.7" y2="60.19"/>
<line x1="191.7" y1="68.72" x2="195.7" y2="68.72"/>
<line x1="191.7" y1="77.24" x2="195.7" y2="77.24"/>
<line x1="191.7" y1="85.76" x2="195.7" y2="85.76"/>
<line x1="191.7" y1="94.28" x2="195.7" y2="94.28"/>
<line x1="191.7" y1="102.8" x2="195.7" y2="102.8"/>
<line x1="191.7" y1="111.33" x2="195.7" y2="111.33"/>
<line x1="191.7" y1="119.85" x2="195.7" y2="119.85"/>
<line x1="191.7" y1="128.37" x2="195.7" y2="128.37"/>
<line x1="191.7" y1="136.89" x2="195.7" y2="136.89"/>
<line x1="191.7" y1="145.41" x2="195.7" y2="145.41"/>
<line x1="191.7" y1="153.94" x2="195.7" y2="153.94"/>
<line x1="191.7" y1="162.46" x2="195.7" y2="162.46"/>
<line x1="191.7" y1="170.98" x2="195.7" y2="170.98"/>
<line x1="191.7" y1="179.5" x2="195.7" y2="179.5"/>
<line x1="191.7" y1="188.02" x2="195.7" y2="188.02"/>
<line x1="191.7" y1="196.55" x2="195.7" y2="196.55"/>
<line x1="191.7" y1="205.07" x2="195.7" y2="205.07"/>
<line x1="191.7" y1="213.59" x2="195.7" y2="213.59"/>
<line x1="191.7" y1="222.11" x2="195.7" y2="222.11"/>
<line x1="191.7" y1="230.63" x2="195.7" y2="230.63"/>
<line x1="191.7" y1="239.16" x2="195.7" y2="239.16"/>
<line x1="191.7" y1="247.68" x2="195.7" y2="247.68"/>
<line x1="191.7" y1="256.2" x2="195.7" y2="256.2"/>
<line x1="191.7" y1="264.72" x2="195.7" y2="264.72"/>
<line x1="191.7" y1="273.24" x2="195.7" y2="273.24"/>
<line x1="191.7" y1="281.76" x2="195.7" y2="281.76"/>
<line x1="191.7" y1="290.29" x2="195.7" y2="290.29"/>
<line x1="191.7" y1="298.81" x2="195.7" y2="298.81"/>
<line x1="191.7" y1="307.33" x2="195.7" y2="307.33"/>
<line x1="191.7" y1="315.85" x2="195.7" y2="315.85"/>
<line x1="191.7" y1="324.37" x2="195.7" y2="324.37"/>
<line x1="191.7" y1="332.9" x2="195.7" y2="332.9"/>
<line x1="191.7" y1="341.42" x2="195.7" y2="341.42"/>
<line x1="191.7" y1="349.94" x2="195.7" y2="349.94"/>
<line x1="191.7" y1="358.46" x2="195.7" y2="358.46"/>
<line x1="191.7" y1="366.98" x2="195.7" y2="366.98"/>
<line x1="191.7" y1="375.51" x2="195.7" y2="375.51"/>
<line x1="191.7" y1="384.03" x2="195.7" y2="384.03"/>
<line x1="191.7" y1="392.55" x2="195.7" y2="392.55"/>
<line x1="191.7" y1="401.07" x2="195.7" y2="401.07"/>
<line x1="191.7" y1="409.59" x2="195.7" y2="409.59"/>
<line x1="191.7" y1="418.12" x2="195.7" y2="418.12"/>
<line x1="191.7" y1="426.64" x2="195.7" y2="426.64"/>
<line x1="191.7" y1="435.16" x2="195.7" y2="435.16"/>
<line x1="39.08" y1="439.02" x2="39.08" y2="440.62"/>
<line x1="59.42" y1="439.02" x2="59.42" y2="440.62"/>
<line x1="79.78" y1="439.02" x2="79.78" y2="440.62"/>
<line x1="100.12" y1="439.02" x2="100.12" y2="440.62"/>
<line x1="120.47" y1="439.02" x2="120.47" y2="440.62"/>
<line x1="140.83" y1="439.02" x2="140.83" y2="440.62"/>
<line x1="161.18" y1="439.02" x2="161.18" y2="440.62"/>
<line x1="181.53" y1="439.02" x2="181.53" y2="440.62"/>
</g>
<g class="lab" font-size="8.5">
<text x="199.0" y="11.96">TG (52:5)</text>
<text x="199.0" y="20.48">TG (50:5)</text>
<text x="199.0" y="29">TG (48:0)</text>
<text x="199.0" y="37.53">TG (50:6)</text>
<text x="199.0" y="46.05">TG (50:7)</text>
<text x="199.0" y="54.57">TG (54:6)</text>
<text x="199.0" y="63.09">TG (52:7)</text>
<text x="199.0" y="71.61">TG (52:6)</text>
<text x="199.0" y="80.14">TG (52:8)</text>
<text x="199.0" y="88.66">TG (48:4)</text>
<text x="199.0" y="97.18">TG (52:11)</text>
<text x="199.0" y="105.7">TG (50:9)</text>
<text x="199.0" y="114.23">TG (52:10)</text>
<text x="199.0" y="122.75">TG (52:9)</text>
<text x="199.0" y="131.27">TG (50:11)</text>
<text x="199.0" y="139.79">TG (54:11)</text>
<text x="199.0" y="148.31">TG (50:10)</text>
<text x="199.0" y="156.84">TG (54:7)</text>
<text x="199.0" y="165.36">TG (54:8)</text>
<text x="199.0" y="173.88">TG (52:12)</text>
<text x="199.0" y="182.4">TG (54:9)</text>
<text x="199.0" y="190.92">TG (54:10)</text>
<text x="199.0" y="199.45">TG (50:8)</text>
<text x="199.0" y="207.97">TG (50:12)</text>
<text x="199.0" y="216.49">TG (54:1)</text>
<text x="199.0" y="225.01">TG (52:1)</text>
<text x="199.0" y="233.53">TG (50:1)</text>
<text x="199.0" y="242.06">TG (50:3)</text>
<text x="199.0" y="250.58">TG (51:3)</text>
<text x="199.0" y="259.1">TG (48:3)</text>
<text x="199.0" y="267.62">TG (52:4)</text>
<text x="199.0" y="276.14">TG (48:2)</text>
<text x="199.0" y="284.67">TG (51:1)</text>
<text x="199.0" y="293.19">TG (49:1)</text>
<text x="199.0" y="301.71">TG (48:1)</text>
<text x="199.0" y="310.23">TG (53:2)</text>
<text x="199.0" y="318.75">TG (51:2)</text>
<text x="199.0" y="327.27">TG (54:5)</text>
<text x="199.0" y="335.8">TG (50:2)</text>
<text x="199.0" y="344.32">TG (50:4)</text>
<text x="199.0" y="352.84">TG (54:3)</text>
<text x="199.0" y="361.36">TG (56:6)</text>
<text x="199.0" y="369.88">TG (54:4)</text>
<text x="199.0" y="378.41">TG (52:3)</text>
<text x="199.0" y="386.93">TG (58:3)</text>
<text x="199.0" y="395.45">TG (56:3)</text>
<text x="199.0" y="403.97">TG (54:2)</text>
<text x="199.0" y="412.5">TG (52:2)</text>
<text x="199.0" y="421.02">TG (56:5)</text>
<text x="199.0" y="429.54">TG (56:2)</text>
<text x="199.0" y="438.06">TG (56:4)</text>
</g>
<rect x="252.4" y="16.9" width="11.1" height="76" fill="url(#gr)"/>
<g stroke="#1a1a1a" stroke-width="0.9">
<line x1="263.5" y1="30.1" x2="269" y2="30.1"/>
<line x1="263.5" y1="55.4" x2="269" y2="55.4"/>
<line x1="263.5" y1="80.6" x2="269" y2="80.6"/>
</g>
<g class="lab" font-size="9.3">
<text x="271.8" y="33.4">2</text>
<text x="271.8" y="58.7">0</text>
<text x="271.8" y="83.9">−2</text>
</g>
<text class="lab" x="240.4" y="11.8" font-size="10.6">Log<tspan font-size="7.6" dy="1.6">2</tspan><tspan dy="-1.6">FC</tspan></text>
<text x="0.2" y="27.7" font-size="21.8" font-weight="bold" stroke="#000" stroke-width="0.3">A</text>
<rect x="302.21" y="443.2" width="5.2" height="51.7" fill="#fbf4ab"/>
<rect x="353.27" y="472.7" width="5.2" height="22.2" fill="#fbf4ab"/>
<rect x="370.29" y="443.2" width="5.2" height="51.7" fill="#fbf4ab"/>
<rect x="387.31" y="479.6" width="5.2" height="15.3" fill="#fbf4ab"/>
<rect x="421.35" y="443.2" width="5.2" height="51.7" fill="#fbf4ab"/>
<line x1="299.61" y1="494.9" x2="430.95" y2="494.9" stroke="#e6e6e6" stroke-width="1"/>
<path d="M303.85,443.2 C307.49,443.2 316.23,494.9 322.06,494.9 L335.85,494.9 C347.56,494.9 365.12,443.2 372.44,443.2 C378.53,443.2 393.16,494.9 402.9,494.9 L403.93,494.9 C410.3,494.9 419.86,443.2 423.84,443.2" fill="none" stroke="#f6bd9c" stroke-width="1.0"/>
<text transform="translate(310.61,446) rotate(-90)" text-anchor="end" font-size="15.0" textLength="51.77" lengthAdjust="spacingAndGlyphs">Tmin10</text>
<text transform="translate(327.63,446) rotate(-90)" text-anchor="end" font-size="15.0" textLength="16.74" lengthAdjust="spacingAndGlyphs">T0</text>
<text transform="translate(344.65,446) rotate(-90)" text-anchor="end" font-size="15.0" textLength="16.74" lengthAdjust="spacingAndGlyphs">T4</text>
<text transform="translate(361.67,446) rotate(-90)" text-anchor="end" font-size="15.0" textLength="16.74" lengthAdjust="spacingAndGlyphs">T8</text>
<text transform="translate(378.69,446) rotate(-90)" text-anchor="end" font-size="15.0" textLength="25.16" lengthAdjust="spacingAndGlyphs">T14</text>
<text transform="translate(395.71,446) rotate(-90)" text-anchor="end" font-size="15.0" textLength="25.16" lengthAdjust="spacingAndGlyphs">T18</text>
<text transform="translate(412.73,446) rotate(-90)" text-anchor="end" font-size="15.0" textLength="25.16" lengthAdjust="spacingAndGlyphs">T24</text>
<text transform="translate(429.75,446) rotate(-90)" text-anchor="end" font-size="15.0" textLength="25.16" lengthAdjust="spacingAndGlyphs">T38</text>
<text transform="translate(278.9,27.6) scale(0.88,1)" font-size="21.4" font-weight="bold" stroke="#000" stroke-width="0.3">B</text>
<g>
<rect x="296.1" y="0" width="18.02" height="14.71" fill="#0000ff"/>
<rect x="313.12" y="0" width="18.02" height="14.71" fill="#0000ff"/>
<rect x="330.14" y="0" width="18.02" height="14.71" fill="#0000ff"/>
<rect x="347.16" y="0" width="18.02" height="14.71" fill="#0000ff"/>
<rect x="364.18" y="0" width="18.02" height="14.71" fill="#0000ff"/>
<rect x="381.2" y="0" width="18.02" height="14.71" fill="#0000ff"/>
<rect x="398.22" y="0" width="18.02" height="14.71" fill="#0d0dff"/>
<rect x="415.24" y="0" width="17.02" height="14.71" fill="#0d0dff"/>
<rect x="296.1" y="13.71" width="18.02" height="14.71" fill="#6666ff"/>
<rect x="313.12" y="13.71" width="18.02" height="14.71" fill="#0d0dff"/>
<rect x="330.14" y="13.71" width="18.02" height="14.71" fill="#0d0dff"/>
<rect x="347.16" y="13.71" width="18.02" height="14.71" fill="#3333ff"/>
<rect x="364.18" y="13.71" width="18.02" height="14.71" fill="#4040ff"/>
<rect x="381.2" y="13.71" width="18.02" height="14.71" fill="#4040ff"/>
<rect x="398.22" y="13.71" width="18.02" height="14.71" fill="#8080ff"/>
<rect x="415.24" y="13.71" width="17.02" height="14.71" fill="#3333ff"/>
<rect x="296.1" y="27.42" width="18.02" height="14.71" fill="#6666ff"/>
<rect x="313.12" y="27.42" width="18.02" height="14.71" fill="#a6a6ff"/>
<rect x="330.14" y="27.42" width="18.02" height="14.71" fill="#4d4dff"/>
<rect x="347.16" y="27.42" width="18.02" height="14.71" fill="#b2b2ff"/>
<rect x="364.18" y="27.42" width="18.02" height="14.71" fill="#7373ff"/>
<rect x="381.2" y="27.42" width="18.02" height="14.71" fill="#6666ff"/>
<rect x="398.22" y="27.42" width="18.02" height="14.71" fill="#5959ff"/>
<rect x="415.24" y="27.42" width="17.02" height="14.71" fill="#1919ff"/>
<rect x="296.1" y="41.13" width="18.02" height="14.71" fill="#6666ff"/>
<rect x="313.12" y="41.13" width="18.02" height="14.71" fill="#9999ff"/>
<rect x="330.14" y="41.13" width="18.02" height="14.71" fill="#8c8cff"/>
<rect x="347.16" y="41.13" width="18.02" height="14.71" fill="#4d4dff"/>
<rect x="364.18" y="41.13" width="18.02" height="14.71" fill="#1919ff"/>
<rect x="381.2" y="41.13" width="18.02" height="14.71" fill="#7373ff"/>
<rect x="398.22" y="41.13" width="18.02" height="14.71" fill="#1919ff"/>
<rect x="415.24" y="41.13" width="17.02" height="14.71" fill="#4d4dff"/>
<rect x="296.1" y="54.84" width="18.02" height="14.71" fill="#b2b2ff"/>
<rect x="313.12" y="54.84" width="18.02" height="14.71" fill="#f0f0ff"/>
<rect x="330.14" y="54.84" width="18.02" height="14.71" fill="#d9d9ff"/>
<rect x="347.16" y="54.84" width="18.02" height="14.71" fill="#f7f7ff"/>
<rect x="364.18" y="54.84" width="18.02" height="14.71" fill="#0d0dff"/>
<rect x="381.2" y="54.84" width="18.02" height="14.71" fill="#7373ff"/>
<rect x="398.22" y="54.84" width="18.02" height="14.71" fill="#a6a6ff"/>
<rect x="415.24" y="54.84" width="17.02" height="14.71" fill="#a6a6ff"/>
<rect x="296.1" y="68.55" width="18.02" height="14.71" fill="#b2b2ff"/>
<rect x="313.12" y="68.55" width="18.02" height="14.71" fill="#b2b2ff"/>
<rect x="330.14" y="68.55" width="18.02" height="14.71" fill="#8c8cff"/>
<rect x="347.16" y="68.55" width="18.02" height="14.71" fill="#a6a6ff"/>
<rect x="364.18" y="68.55" width="18.02" height="14.71" fill="#b2b2ff"/>
<rect x="381.2" y="68.55" width="18.02" height="14.71" fill="#e6e6ff"/>
<rect x="398.22" y="68.55" width="18.02" height="14.71" fill="#e0e0ff"/>
<rect x="415.24" y="68.55" width="17.02" height="14.71" fill="#bfbfff"/>
<rect x="296.1" y="82.26" width="18.02" height="14.71" fill="#b2b2ff"/>
<rect x="313.12" y="82.26" width="18.02" height="14.71" fill="#d9d9ff"/>
<rect x="330.14" y="82.26" width="18.02" height="14.71" fill="#8c8cff"/>
<rect x="347.16" y="82.26" width="18.02" height="14.71" fill="#8080ff"/>
<rect x="364.18" y="82.26" width="18.02" height="14.71" fill="#8080ff"/>
<rect x="381.2" y="82.26" width="18.02" height="14.71" fill="#bfbfff"/>
<rect x="398.22" y="82.26" width="18.02" height="14.71" fill="#b2b2ff"/>
<rect x="415.24" y="82.26" width="17.02" height="14.71" fill="#b2b2ff"/>
<rect x="296.1" y="95.97" width="18.02" height="14.71" fill="#adadff"/>
<rect x="313.12" y="95.97" width="18.02" height="14.71" fill="#e0e0ff"/>
<rect x="330.14" y="95.97" width="18.02" height="14.71" fill="#8c8cff"/>
<rect x="347.16" y="95.97" width="18.02" height="14.71" fill="#8080ff"/>
<rect x="364.18" y="95.97" width="18.02" height="14.71" fill="#8c8cff"/>
<rect x="381.2" y="95.97" width="18.02" height="14.71" fill="#e0e0ff"/>
<rect x="398.22" y="95.97" width="18.02" height="14.71" fill="#c7c7ff"/>
<rect x="415.24" y="95.97" width="17.02" height="14.71" fill="#bfbfff"/>
<rect x="296.1" y="109.68" width="18.02" height="14.71" fill="#a6a6ff"/>
<rect x="313.12" y="109.68" width="18.02" height="14.71" fill="#b2b2ff"/>
<rect x="330.14" y="109.68" width="18.02" height="14.71" fill="#8080ff"/>
<rect x="347.16" y="109.68" width="18.02" height="14.71" fill="#9999ff"/>
<rect x="364.18" y="109.68" width="18.02" height="14.71" fill="#8080ff"/>
<rect x="381.2" y="109.68" width="18.02" height="14.71" fill="#b8b8ff"/>
<rect x="398.22" y="109.68" width="18.02" height="14.71" fill="#a6a6ff"/>
<rect x="415.24" y="109.68" width="17.02" height="14.71" fill="#bfbfff"/>
<rect x="296.1" y="123.39" width="18.02" height="14.71" fill="#adadff"/>
<rect x="313.12" y="123.39" width="18.02" height="14.71" fill="#b2b2ff"/>
<rect x="330.14" y="123.39" width="18.02" height="14.71" fill="#5959ff"/>
<rect x="347.16" y="123.39" width="18.02" height="14.71" fill="#9999ff"/>
<rect x="364.18" y="123.39" width="18.02" height="14.71" fill="#adadff"/>
<rect x="381.2" y="123.39" width="18.02" height="14.71" fill="#ebebff"/>
<rect x="398.22" y="123.39" width="18.02" height="14.71" fill="#bfbfff"/>
<rect x="415.24" y="123.39" width="17.02" height="14.71" fill="#b2b2ff"/>
<rect x="296.1" y="137.1" width="18.02" height="14.71" fill="#adadff"/>
<rect x="313.12" y="137.1" width="18.02" height="14.71" fill="#ccccff"/>
<rect x="330.14" y="137.1" width="18.02" height="14.71" fill="#8c8cff"/>
<rect x="347.16" y="137.1" width="18.02" height="14.71" fill="#a6a6ff"/>
<rect x="364.18" y="137.1" width="18.02" height="14.71" fill="#9999ff"/>
<rect x="381.2" y="137.1" width="18.02" height="14.71" fill="#d9d9ff"/>
<rect x="398.22" y="137.1" width="18.02" height="14.71" fill="#d1d1ff"/>
<rect x="415.24" y="137.1" width="17.02" height="14.71" fill="#9e9eff"/>
<rect x="296.1" y="150.81" width="18.02" height="14.71" fill="#a6a6ff"/>
<rect x="313.12" y="150.81" width="18.02" height="14.71" fill="#a6a6ff"/>
<rect x="330.14" y="150.81" width="18.02" height="14.71" fill="#7373ff"/>
<rect x="347.16" y="150.81" width="18.02" height="14.71" fill="#8c8cff"/>
<rect x="364.18" y="150.81" width="18.02" height="14.71" fill="#7373ff"/>
<rect x="381.2" y="150.81" width="18.02" height="14.71" fill="#ccccff"/>
<rect x="398.22" y="150.81" width="18.02" height="14.71" fill="#bfbfff"/>
<rect x="415.24" y="150.81" width="17.02" height="14.71" fill="#a6a6ff"/>
<rect x="296.1" y="164.52" width="18.02" height="14.71" fill="#b8b8ff"/>
<rect x="313.12" y="164.52" width="18.02" height="14.71" fill="#a6a6ff"/>
<rect x="330.14" y="164.52" width="18.02" height="14.71" fill="#8c8cff"/>
<rect x="347.16" y="164.52" width="18.02" height="14.71" fill="#8c8cff"/>
<rect x="364.18" y="164.52" width="18.02" height="14.71" fill="#9999ff"/>
<rect x="381.2" y="164.52" width="18.02" height="14.71" fill="#e6e6ff"/>
<rect x="398.22" y="164.52" width="18.02" height="14.71" fill="#d9d9ff"/>
<rect x="415.24" y="164.52" width="17.02" height="14.71" fill="#b2b2ff"/>
<rect x="296.1" y="178.23" width="18.02" height="14.71" fill="#8c8cff"/>
<rect x="313.12" y="178.23" width="18.02" height="14.71" fill="#4040ff"/>
<rect x="330.14" y="178.23" width="18.02" height="14.71" fill="#2626ff"/>
<rect x="347.16" y="178.23" width="18.02" height="14.71" fill="#2626ff"/>
<rect x="364.18" y="178.23" width="18.02" height="14.71" fill="#8c8cff"/>
<rect x="381.2" y="178.23" width="18.02" height="14.71" fill="#c7c7ff"/>
<rect x="398.22" y="178.23" width="18.02" height="14.71" fill="#a6a6ff"/>
<rect x="415.24" y="178.23" width="17.02" height="14.71" fill="#e0e0ff"/>
<rect x="296.1" y="191.94" width="18.02" height="14.71" fill="#9999ff"/>
<rect x="313.12" y="191.94" width="18.02" height="14.71" fill="#8080ff"/>
<rect x="330.14" y="191.94" width="18.02" height="14.71" fill="#7373ff"/>
<rect x="347.16" y="191.94" width="18.02" height="14.71" fill="#a6a6ff"/>
<rect x="364.18" y="191.94" width="18.02" height="14.71" fill="#5959ff"/>
<rect x="381.2" y="191.94" width="18.02" height="14.71" fill="#a6a6ff"/>
<rect x="398.22" y="191.94" width="18.02" height="14.71" fill="#9999ff"/>
<rect x="415.24" y="191.94" width="17.02" height="14.71" fill="#8080ff"/>
<rect x="296.1" y="205.65" width="18.02" height="14.71" fill="#8080ff"/>
<rect x="313.12" y="205.65" width="18.02" height="14.71" fill="#5959ff"/>
<rect x="330.14" y="205.65" width="18.02" height="14.71" fill="#5959ff"/>
<rect x="347.16" y="205.65" width="18.02" height="14.71" fill="#6666ff"/>
<rect x="364.18" y="205.65" width="18.02" height="14.71" fill="#5959ff"/>
<rect x="381.2" y="205.65" width="18.02" height="14.71" fill="#9999ff"/>
<rect x="398.22" y="205.65" width="18.02" height="14.71" fill="#8080ff"/>
<rect x="415.24" y="205.65" width="17.02" height="14.71" fill="#8080ff"/>
<rect x="296.1" y="219.36" width="18.02" height="14.71" fill="#9999ff"/>
<rect x="313.12" y="219.36" width="18.02" height="14.71" fill="#7373ff"/>
<rect x="330.14" y="219.36" width="18.02" height="14.71" fill="#4d4dff"/>
<rect x="347.16" y="219.36" width="18.02" height="14.71" fill="#4040ff"/>
<rect x="364.18" y="219.36" width="18.02" height="14.71" fill="#5959ff"/>
<rect x="381.2" y="219.36" width="18.02" height="14.71" fill="#9999ff"/>
<rect x="398.22" y="219.36" width="18.02" height="14.71" fill="#7373ff"/>
<rect x="415.24" y="219.36" width="17.02" height="14.71" fill="#8c8cff"/>
<rect x="296.1" y="233.07" width="18.02" height="14.71" fill="#4d4dff"/>
<rect x="313.12" y="233.07" width="18.02" height="14.71" fill="#4d4dff"/>
<rect x="330.14" y="233.07" width="18.02" height="14.71" fill="#0000ff"/>
<rect x="347.16" y="233.07" width="18.02" height="14.71" fill="#6666ff"/>
<rect x="364.18" y="233.07" width="18.02" height="14.71" fill="#2626ff"/>
<rect x="381.2" y="233.07" width="18.02" height="14.71" fill="#9999ff"/>
<rect x="398.22" y="233.07" width="18.02" height="14.71" fill="#4d4dff"/>
<rect x="415.24" y="233.07" width="17.02" height="14.71" fill="#b2b2ff"/>
<rect x="296.1" y="246.78" width="18.02" height="14.71" fill="#4d4dff"/>
<rect x="313.12" y="246.78" width="18.02" height="14.71" fill="#6666ff"/>
<rect x="330.14" y="246.78" width="18.02" height="14.71" fill="#1919ff"/>
<rect x="347.16" y="246.78" width="18.02" height="14.71" fill="#2626ff"/>
<rect x="364.18" y="246.78" width="18.02" height="14.71" fill="#4040ff"/>
<rect x="381.2" y="246.78" width="18.02" height="14.71" fill="#a6a6ff"/>
<rect x="398.22" y="246.78" width="18.02" height="14.71" fill="#8080ff"/>
<rect x="415.24" y="246.78" width="17.02" height="14.71" fill="#6666ff"/>
<rect x="296.1" y="260.49" width="18.02" height="14.71" fill="#ffd1d1"/>
<rect x="313.12" y="260.49" width="18.02" height="14.71" fill="#ffcccc"/>
<rect x="330.14" y="260.49" width="18.02" height="14.71" fill="#ffe0e0"/>
<rect x="347.16" y="260.49" width="18.02" height="14.71" fill="#ffd1d1"/>
<rect x="364.18" y="260.49" width="18.02" height="14.71" fill="#ffffff"/>
<rect x="381.2" y="260.49" width="18.02" height="14.71" fill="#ff4040"/>
<rect x="398.22" y="260.49" width="18.02" height="14.71" fill="#8c8cff"/>
<rect x="415.24" y="260.49" width="17.02" height="14.71" fill="#ffbfbf"/>
<rect x="296.1" y="274.2" width="18.02" height="14.71" fill="#ffe0e0"/>
<rect x="313.12" y="274.2" width="18.02" height="14.71" fill="#ffbfbf"/>
<rect x="330.14" y="274.2" width="18.02" height="14.71" fill="#d9d9ff"/>
<rect x="347.16" y="274.2" width="18.02" height="14.71" fill="#ff9e9e"/>
<rect x="364.18" y="274.2" width="18.02" height="14.71" fill="#ffbfbf"/>
<rect x="381.2" y="274.2" width="18.02" height="14.71" fill="#ff9999"/>
<rect x="398.22" y="274.2" width="18.02" height="14.71" fill="#ff8c8c"/>
<rect x="415.24" y="274.2" width="17.02" height="14.71" fill="#ff6666"/>
<rect x="296.1" y="287.91" width="18.02" height="14.71" fill="#ffebeb"/>
<rect x="313.12" y="287.91" width="18.02" height="14.71" fill="#ffbfbf"/>
<rect x="330.14" y="287.91" width="18.02" height="14.71" fill="#ffbfbf"/>
<rect x="347.16" y="287.91" width="18.02" height="14.71" fill="#ffd1d1"/>
<rect x="364.18" y="287.91" width="18.02" height="14.71" fill="#ffb2b2"/>
<rect x="381.2" y="287.91" width="18.02" height="14.71" fill="#ff9999"/>
<rect x="398.22" y="287.91" width="18.02" height="14.71" fill="#ff9494"/>
<rect x="415.24" y="287.91" width="17.02" height="14.71" fill="#ff7373"/>
<rect x="296.1" y="301.62" width="18.02" height="14.71" fill="#fafaff"/>
<rect x="313.12" y="301.62" width="18.02" height="14.71" fill="#e6e6ff"/>
<rect x="330.14" y="301.62" width="18.02" height="14.71" fill="#fffafa"/>
<rect x="347.16" y="301.62" width="18.02" height="14.71" fill="#fffcfc"/>
<rect x="364.18" y="301.62" width="18.02" height="14.71" fill="#ffd9d9"/>
<rect x="381.2" y="301.62" width="18.02" height="14.71" fill="#ffd1d1"/>
<rect x="398.22" y="301.62" width="18.02" height="14.71" fill="#ffe6e6"/>
<rect x="415.24" y="301.62" width="17.02" height="14.71" fill="#ffcccc"/>
<rect x="296.1" y="315.33" width="18.02" height="14.71" fill="#ffc7c7"/>
<rect x="313.12" y="315.33" width="18.02" height="14.71" fill="#fff0f0"/>
<rect x="330.14" y="315.33" width="18.02" height="14.71" fill="#f7f7ff"/>
<rect x="347.16" y="315.33" width="18.02" height="14.71" fill="#fff5f5"/>
<rect x="364.18" y="315.33" width="18.02" height="14.71" fill="#ffebeb"/>
<rect x="381.2" y="315.33" width="18.02" height="14.71" fill="#ffbfbf"/>
<rect x="398.22" y="315.33" width="18.02" height="14.71" fill="#ffc7c7"/>
<rect x="415.24" y="315.33" width="17.02" height="14.71" fill="#ffc7c7"/>
<rect x="296.1" y="329.04" width="18.02" height="14.71" fill="#ffcccc"/>
<rect x="313.12" y="329.04" width="18.02" height="14.71" fill="#ffbfbf"/>
<rect x="330.14" y="329.04" width="18.02" height="14.71" fill="#ffc7c7"/>
<rect x="347.16" y="329.04" width="18.02" height="14.71" fill="#ffb8b8"/>
<rect x="364.18" y="329.04" width="18.02" height="14.71" fill="#ffb8b8"/>
<rect x="381.2" y="329.04" width="18.02" height="14.71" fill="#ffb2b2"/>
<rect x="398.22" y="329.04" width="18.02" height="14.71" fill="#ffadad"/>
<rect x="415.24" y="329.04" width="17.02" height="14.71" fill="#ffe0e0"/>
<rect x="296.1" y="342.75" width="18.02" height="14.71" fill="#ffbfbf"/>
<rect x="313.12" y="342.75" width="18.02" height="14.71" fill="#ffebeb"/>
<rect x="330.14" y="342.75" width="18.02" height="14.71" fill="#fff2f2"/>
<rect x="347.16" y="342.75" width="18.02" height="14.71" fill="#ffbfbf"/>
<rect x="364.18" y="342.75" width="18.02" height="14.71" fill="#ffe6e6"/>
<rect x="381.2" y="342.75" width="18.02" height="14.71" fill="#ffcccc"/>
<rect x="398.22" y="342.75" width="18.02" height="14.71" fill="#fff5f5"/>
<rect x="415.24" y="342.75" width="17.02" height="14.71" fill="#ffebeb"/>
<rect x="296.1" y="356.46" width="18.02" height="14.71" fill="#ff9999"/>
<rect x="313.12" y="356.46" width="18.02" height="14.71" fill="#ffe6e6"/>
<rect x="330.14" y="356.46" width="18.02" height="14.71" fill="#ffebeb"/>
<rect x="347.16" y="356.46" width="18.02" height="14.71" fill="#ff9e9e"/>
<rect x="364.18" y="356.46" width="18.02" height="14.71" fill="#ffcccc"/>
<rect x="381.2" y="356.46" width="18.02" height="14.71" fill="#ffadad"/>
<rect x="398.22" y="356.46" width="18.02" height="14.71" fill="#fff5f5"/>
<rect x="415.24" y="356.46" width="17.02" height="14.71" fill="#ffd9d9"/>
<rect x="296.1" y="370.17" width="18.02" height="14.71" fill="#ff3333"/>
<rect x="313.12" y="370.17" width="18.02" height="14.71" fill="#ffd9d9"/>
<rect x="330.14" y="370.17" width="18.02" height="14.71" fill="#ffcccc"/>
<rect x="347.16" y="370.17" width="18.02" height="14.71" fill="#ff4d4d"/>
<rect x="364.18" y="370.17" width="18.02" height="14.71" fill="#ff5959"/>
<rect x="381.2" y="370.17" width="18.02" height="14.71" fill="#ffb2b2"/>
<rect x="398.22" y="370.17" width="18.02" height="14.71" fill="#ffc7c7"/>
<rect x="415.24" y="370.17" width="17.02" height="14.71" fill="#ff6666"/>
<rect x="296.1" y="383.88" width="18.02" height="14.71" fill="#ffbfbf"/>
<rect x="313.12" y="383.88" width="18.02" height="14.71" fill="#ffa6a6"/>
<rect x="330.14" y="383.88" width="18.02" height="14.71" fill="#ff8080"/>
<rect x="347.16" y="383.88" width="18.02" height="14.71" fill="#ff8c8c"/>
<rect x="364.18" y="383.88" width="18.02" height="14.71" fill="#ff6666"/>
<rect x="381.2" y="383.88" width="18.02" height="14.71" fill="#ff7373"/>
<rect x="398.22" y="383.88" width="18.02" height="14.71" fill="#ff5959"/>
<rect x="415.24" y="383.88" width="17.02" height="14.71" fill="#ff9999"/>
<rect x="296.1" y="397.59" width="18.02" height="14.71" fill="#ffcccc"/>
<rect x="313.12" y="397.59" width="18.02" height="14.71" fill="#ff9999"/>
<rect x="330.14" y="397.59" width="18.02" height="14.71" fill="#ffb2b2"/>
<rect x="347.16" y="397.59" width="18.02" height="14.71" fill="#ff8c8c"/>
<rect x="364.18" y="397.59" width="18.02" height="14.71" fill="#ff9999"/>
<rect x="381.2" y="397.59" width="18.02" height="14.71" fill="#ff8c8c"/>
<rect x="398.22" y="397.59" width="18.02" height="14.71" fill="#ff7373"/>
<rect x="415.24" y="397.59" width="17.02" height="14.71" fill="#ff4040"/>
<rect x="296.1" y="411.3" width="18.02" height="14.71" fill="#ff4040"/>
<rect x="313.12" y="411.3" width="18.02" height="14.71" fill="#ff0000"/>
<rect x="330.14" y="411.3" width="18.02" height="14.71" fill="#ff0d0d"/>
<rect x="347.16" y="411.3" width="18.02" height="14.71" fill="#ff1919"/>
<rect x="364.18" y="411.3" width="18.02" height="14.71" fill="#ff6666"/>
<rect x="381.2" y="411.3" width="18.02" height="14.71" fill="#ff4040"/>
<rect x="398.22" y="411.3" width="18.02" height="14.71" fill="#ff0000"/>
<rect x="415.24" y="411.3" width="17.02" height="14.71" fill="#ffa6a6"/>
<rect x="296.1" y="425.01" width="18.02" height="13.71" fill="#ff5959"/>
<rect x="313.12" y="425.01" width="18.02" height="13.71" fill="#ff0000"/>
<rect x="330.14" y="425.01" width="18.02" height="13.71" fill="#ff0000"/>
<rect x="347.16" y="425.01" width="18.02" height="13.71" fill="#ff1919"/>
<rect x="364.18" y="425.01" width="18.02" height="13.71" fill="#ff0d0d"/>
<rect x="381.2" y="425.01" width="18.02" height="13.71" fill="#ff0000"/>
<rect x="398.22" y="425.01" width="18.02" height="13.71" fill="#ff0000"/>
<rect x="415.24" y="425.01" width="17.02" height="13.71" fill="#ff0000"/>
</g>
<rect x="296.75" y="-3" width="136.25" height="441.82" fill="none" stroke="#000" stroke-width="1.4"/>
<g font-size="20.5" text-anchor="middle" stroke="#000" stroke-width="0.35">
<text x="339.3" y="16.26">*</text>
<text x="373.22" y="16.26">*</text>
<text x="390.18" y="16.26">*</text>
<text x="305.38" y="29.97">*</text>
<text x="322.34" y="29.97">*</text>
<text x="339.3" y="29.97">*</text>
<text x="356.26" y="29.97">*</text>
<text x="373.22" y="29.97">*</text>
<text x="390.18" y="29.97">*</text>
<text x="407.14" y="29.97">*</text>
<text x="424.1" y="29.97">*</text>
<text x="356.26" y="43.68">*</text>
<text x="373.22" y="43.68">*</text>
<text x="390.18" y="43.68">*</text>
<text x="407.14" y="43.68">*</text>
<text x="424.1" y="43.68">*</text>
<text x="305.38" y="57.38">*</text>
<text x="322.34" y="57.38">*</text>
<text x="339.3" y="57.38">*</text>
<text x="356.26" y="57.38">*</text>
<text x="373.22" y="57.38">*</text>
<text x="390.18" y="57.38">*</text>
<text x="424.1" y="57.38">*</text>
<text x="373.22" y="71.1">*</text>
<text x="390.18" y="71.1">*</text>
<text x="339.3" y="84.81">*</text>
<text x="356.26" y="84.81">*</text>
<text x="339.3" y="98.52">*</text>
<text x="356.26" y="98.52">*</text>
<text x="373.22" y="98.52">*</text>
<text x="424.1" y="98.52">*</text>
<text x="356.26" y="112.23">*</text>
<text x="373.22" y="112.23">*</text>
<text x="305.38" y="125.94">*</text>
<text x="339.3" y="125.94">*</text>
<text x="356.26" y="125.94">*</text>
<text x="373.22" y="125.94">*</text>
<text x="407.14" y="125.94">*</text>
<text x="356.26" y="139.65">*</text>
<text x="339.3" y="153.36">*</text>
<text x="356.26" y="153.36">*</text>
<text x="373.22" y="153.36">*</text>
<text x="305.38" y="167.07">*</text>
<text x="322.34" y="167.07">*</text>
<text x="339.3" y="167.07">*</text>
<text x="356.26" y="167.07">*</text>
<text x="373.22" y="167.07">*</text>
<text x="424.1" y="167.07">*</text>
<text x="322.34" y="180.78">*</text>
<text x="339.3" y="180.78">*</text>
<text x="356.26" y="180.78">*</text>
<text x="373.22" y="180.78">*</text>
<text x="305.38" y="194.49">*</text>
<text x="322.34" y="194.49">*</text>
<text x="339.3" y="194.49">*</text>
<text x="356.26" y="194.49">*</text>
<text x="373.22" y="194.49">*</text>
<text x="305.38" y="208.2">*</text>
<text x="322.34" y="208.2">*</text>
<text x="339.3" y="208.2">*</text>
<text x="356.26" y="208.2">*</text>
<text x="373.22" y="208.2">*</text>
<text x="390.18" y="208.2">*</text>
<text x="407.14" y="208.2">*</text>
<text x="424.1" y="208.2">*</text>
<text x="305.38" y="221.91">*</text>
<text x="322.34" y="221.91">*</text>
<text x="339.3" y="221.91">*</text>
<text x="356.26" y="221.91">*</text>
<text x="373.22" y="221.91">*</text>
<text x="390.18" y="221.91">*</text>
<text x="407.14" y="221.91">*</text>
<text x="424.1" y="221.91">*</text>
<text x="305.38" y="235.62">*</text>
<text x="322.34" y="235.62">*</text>
<text x="339.3" y="235.62">*</text>
<text x="356.26" y="235.62">*</text>
<text x="373.22" y="235.62">*</text>
<text x="390.18" y="235.62">*</text>
<text x="407.14" y="235.62">*</text>
<text x="424.1" y="235.62">*</text>
<text x="305.38" y="249.33">*</text>
<text x="322.34" y="249.33">*</text>
<text x="356.26" y="249.33">*</text>
<text x="373.22" y="249.33">*</text>
<text x="390.18" y="249.33">*</text>
<text x="407.14" y="249.33">*</text>
<text x="356.26" y="263.04">*</text>
<text x="373.22" y="263.04">*</text>
<text x="390.18" y="263.04">*</text>
<text x="407.14" y="263.04">*</text>
<text x="424.1" y="263.04">*</text>
<text x="390.18" y="304.17">*</text>
<text x="407.14" y="304.17">*</text>
<text x="424.1" y="304.17">*</text>
<text x="407.14" y="345.3">*</text>
<text x="305.38" y="372.71">*</text>
<text x="305.38" y="386.43">*</text>
<text x="356.26" y="386.43">*</text>
<text x="373.22" y="386.43">*</text>
<text x="424.1" y="386.43">*</text>
<text x="339.3" y="400.13">*</text>
<text x="373.22" y="400.13">*</text>
<text x="390.18" y="400.13">*</text>
<text x="407.14" y="400.13">*</text>
<text x="424.1" y="400.13">*</text>
<text x="322.34" y="413.85">*</text>
<text x="356.26" y="413.85">*</text>
<text x="373.22" y="413.85">*</text>
<text x="390.18" y="413.85">*</text>
<text x="407.14" y="413.85">*</text>
<text x="305.38" y="427.56">*</text>
<text x="322.34" y="427.56">*</text>
<text x="339.3" y="427.56">*</text>
<text x="356.26" y="427.56">*</text>
<text x="373.22" y="427.56">*</text>
<text x="390.18" y="427.56">*</text>
<text x="407.14" y="427.56">*</text>
<text x="339.3" y="441.26">*</text>
<text x="356.26" y="441.26">*</text>
<text x="390.18" y="441.26">*</text>
<text x="407.14" y="441.26">*</text>
<text x="424.1" y="441.26">*</text>
</g>
<g stroke="#111" stroke-width="1.2">
<line x1="433.5" y1="7.26" x2="439.4" y2="7.26"/>
<line x1="294.2" y1="7.26" x2="296.2" y2="7.26" stroke="#777" stroke-width="0.7"/>
<line x1="433.5" y1="20.96" x2="439.4" y2="20.96"/>
<line x1="294.2" y1="20.96" x2="296.2" y2="20.96" stroke="#777" stroke-width="0.7"/>
<line x1="433.5" y1="34.68" x2="439.4" y2="34.68"/>
<line x1="294.2" y1="34.68" x2="296.2" y2="34.68" stroke="#777" stroke-width="0.7"/>
<line x1="433.5" y1="48.38" x2="439.4" y2="48.38"/>
<line x1="294.2" y1="48.38" x2="296.2" y2="48.38" stroke="#777" stroke-width="0.7"/>
<line x1="433.5" y1="62.1" x2="439.4" y2="62.1"/>
<line x1="294.2" y1="62.1" x2="296.2" y2="62.1" stroke="#777" stroke-width="0.7"/>
<line x1="433.5" y1="75.81" x2="439.4" y2="75.81"/>
<line x1="294.2" y1="75.81" x2="296.2" y2="75.81" stroke="#777" stroke-width="0.7"/>
<line x1="433.5" y1="89.52" x2="439.4" y2="89.52"/>
<line x1="294.2" y1="89.52" x2="296.2" y2="89.52" stroke="#777" stroke-width="0.7"/>
<line x1="433.5" y1="103.23" x2="439.4" y2="103.23"/>
<line x1="294.2" y1="103.23" x2="296.2" y2="103.23" stroke="#777" stroke-width="0.7"/>
<line x1="433.5" y1="116.94" x2="439.4" y2="116.94"/>
<line x1="294.2" y1="116.94" x2="296.2" y2="116.94" stroke="#777" stroke-width="0.7"/>
<line x1="433.5" y1="130.65" x2="439.4" y2="130.65"/>
<line x1="294.2" y1="130.65" x2="296.2" y2="130.65" stroke="#777" stroke-width="0.7"/>
<line x1="433.5" y1="144.36" x2="439.4" y2="144.36"/>
<line x1="294.2" y1="144.36" x2="296.2" y2="144.36" stroke="#777" stroke-width="0.7"/>
<line x1="433.5" y1="158.07" x2="439.4" y2="158.07"/>
<line x1="294.2" y1="158.07" x2="296.2" y2="158.07" stroke="#777" stroke-width="0.7"/>
<line x1="433.5" y1="171.78" x2="439.4" y2="171.78"/>
<line x1="294.2" y1="171.78" x2="296.2" y2="171.78" stroke="#777" stroke-width="0.7"/>
<line x1="433.5" y1="185.49" x2="439.4" y2="185.49"/>
<line x1="294.2" y1="185.49" x2="296.2" y2="185.49" stroke="#777" stroke-width="0.7"/>
<line x1="433.5" y1="199.2" x2="439.4" y2="199.2"/>
<line x1="294.2" y1="199.2" x2="296.2" y2="199.2" stroke="#777" stroke-width="0.7"/>
<line x1="433.5" y1="212.91" x2="439.4" y2="212.91"/>
<line x1="294.2" y1="212.91" x2="296.2" y2="212.91" stroke="#777" stroke-width="0.7"/>
<line x1="433.5" y1="226.62" x2="439.4" y2="226.62"/>
<line x1="294.2" y1="226.62" x2="296.2" y2="226.62" stroke="#777" stroke-width="0.7"/>
<line x1="433.5" y1="240.33" x2="439.4" y2="240.33"/>
<line x1="294.2" y1="240.33" x2="296.2" y2="240.33" stroke="#777" stroke-width="0.7"/>
<line x1="433.5" y1="254.04" x2="439.4" y2="254.04"/>
<line x1="294.2" y1="254.04" x2="296.2" y2="254.04" stroke="#777" stroke-width="0.7"/>
<line x1="433.5" y1="267.75" x2="439.4" y2="267.75"/>
<line x1="294.2" y1="267.75" x2="296.2" y2="267.75" stroke="#777" stroke-width="0.7"/>
<line x1="433.5" y1="281.45" x2="439.4" y2="281.45"/>
<line x1="294.2" y1="281.45" x2="296.2" y2="281.45" stroke="#777" stroke-width="0.7"/>
<line x1="433.5" y1="295.17" x2="439.4" y2="295.17"/>
<line x1="294.2" y1="295.17" x2="296.2" y2="295.17" stroke="#777" stroke-width="0.7"/>
<line x1="433.5" y1="308.88" x2="439.4" y2="308.88"/>
<line x1="294.2" y1="308.88" x2="296.2" y2="308.88" stroke="#777" stroke-width="0.7"/>
<line x1="433.5" y1="322.58" x2="439.4" y2="322.58"/>
<line x1="294.2" y1="322.58" x2="296.2" y2="322.58" stroke="#777" stroke-width="0.7"/>
<line x1="433.5" y1="336.3" x2="439.4" y2="336.3"/>
<line x1="294.2" y1="336.3" x2="296.2" y2="336.3" stroke="#777" stroke-width="0.7"/>
<line x1="433.5" y1="350" x2="439.4" y2="350"/>
<line x1="294.2" y1="350" x2="296.2" y2="350" stroke="#777" stroke-width="0.7"/>
<line x1="433.5" y1="363.71" x2="439.4" y2="363.71"/>
<line x1="294.2" y1="363.71" x2="296.2" y2="363.71" stroke="#777" stroke-width="0.7"/>
<line x1="433.5" y1="377.43" x2="439.4" y2="377.43"/>
<line x1="294.2" y1="377.43" x2="296.2" y2="377.43" stroke="#777" stroke-width="0.7"/>
<line x1="433.5" y1="391.13" x2="439.4" y2="391.13"/>
<line x1="294.2" y1="391.13" x2="296.2" y2="391.13" stroke="#777" stroke-width="0.7"/>
<line x1="433.5" y1="404.85" x2="439.4" y2="404.85"/>
<line x1="294.2" y1="404.85" x2="296.2" y2="404.85" stroke="#777" stroke-width="0.7"/>
<line x1="433.5" y1="418.56" x2="439.4" y2="418.56"/>
<line x1="294.2" y1="418.56" x2="296.2" y2="418.56" stroke="#777" stroke-width="0.7"/>
<line x1="433.5" y1="432.26" x2="439.4" y2="432.26"/>
<line x1="294.2" y1="432.26" x2="296.2" y2="432.26" stroke="#777" stroke-width="0.7"/>
</g>
<g class="lab" font-size="14.95">
<text x="443.4" y="12.86">glyceric acid</text>
<text x="443.4" y="26.57">N-acetyl-glucosamine</text>
<text x="443.4" y="40.28">adenine</text>
<text x="443.4" y="53.98">deoxyuridine</text>
<text x="443.4" y="67.7">pyruvic acid</text>
<text x="443.4" y="81.41">serine</text>
<text x="443.4" y="95.12">leucine</text>
<text x="443.4" y="108.83">fumaric acid</text>
<text x="443.4" y="122.54">valine</text>
<text x="443.4" y="136.25">hypoxanthine</text>
<text x="443.4" y="149.96">homoserine</text>
<text x="443.4" y="163.67">threonine</text>
<text x="443.4" y="177.38">N-trimethyllysine</text>
<text x="443.4" y="191.09">2-phosphoglyceric acid</text>
<text x="443.4" y="204.8">isoleucine</text>
<text x="443.4" y="218.51">uridine</text>
<text x="443.4" y="232.22">itaconic acid</text>
<text x="443.4" y="245.93">alanine</text>
<text x="443.4" y="259.63">glycine</text>
<text x="443.4" y="273.35">salicylic acid</text>
<text x="443.4" y="287.06">4-aminobutanoic acid</text>
<text x="443.4" y="300.77">trehalose</text>
<text x="443.4" y="314.48">4-hydroxy-2-quinolinecarboxylic acid</text>
<text x="443.4" y="328.19">azelaic acid</text>
<text x="443.4" y="341.9">isocitric acid</text>
<text x="443.4" y="355.61">palatinose</text>
<text x="443.4" y="369.31">sucrose</text>
<text x="443.4" y="383.03">raffinose</text>
<text x="443.4" y="396.74">3-hydroxyanthranilic acid</text>
<text x="443.4" y="410.45">adenosine 5'-diphosphoric acid</text>
<text x="443.4" y="424.16">proline</text>
<text x="443.4" y="437.87">betaine</text>
</g>
<rect x="626.1" y="21.5" width="13.8" height="53.1" fill="url(#gr)"/>
<g stroke="#1a1a1a" stroke-width="0.9">
<line x1="639.9" y1="25.7" x2="645.2" y2="25.7"/>
<line x1="639.9" y1="48.3" x2="645.2" y2="48.3"/>
<line x1="639.9" y1="70.5" x2="645.2" y2="70.5"/>
</g>
<g class="lab" font-size="9.3">
<text x="648.5" y="29">2.5</text>
<text x="648.5" y="51.6">0.0</text>
<text x="648.5" y="73.8">−2.5</text>
</g>
<text class="lab" x="615.3" y="16.4" font-size="10.6">Log<tspan font-size="7.6" dy="1.6">2</tspan><tspan dy="-1.6">FC</tspan></text>
<text transform="translate(-1.0,500.5) scale(0.86,1)" font-size="23.4" font-weight="bold" stroke="#000" stroke-width="0.3">C</text>
<rect x="31" y="634.6" width="8" height="43.4" fill="#fbf4ab"/>
<rect x="108.76" y="659.3" width="8" height="18.7" fill="#fbf4ab"/>
<rect x="134.48" y="634.6" width="8" height="43.4" fill="#fbf4ab"/>
<rect x="160.2" y="665.8" width="8" height="12.2" fill="#fbf4ab"/>
<rect x="211.64" y="634.6" width="8" height="43.4" fill="#fbf4ab"/>
<line x1="29.2" y1="678" x2="224.03" y2="678" stroke="#e6e6e6" stroke-width="1"/>
<path d="M34.14,634.6 C39.64,634.6 52.84,678 61.63,678 L82.44,678 C100.12,678 126.63,634.6 137.68,634.6 C146.87,634.6 168.95,678 183.66,678 L185.2,678 C194.82,678 209.25,634.6 215.26,634.6" fill="none" stroke="#f6bd9c" stroke-width="1.0"/>
<text transform="translate(40.9,635) rotate(-90)" text-anchor="end" font-size="12.8" textLength="43" lengthAdjust="spacingAndGlyphs">Tmin10</text>
<text transform="translate(66.59,635) rotate(-90)" text-anchor="end" font-size="12.8" textLength="13.9" lengthAdjust="spacingAndGlyphs">T0</text>
<text transform="translate(92.28,635) rotate(-90)" text-anchor="end" font-size="12.8" textLength="13.9" lengthAdjust="spacingAndGlyphs">T4</text>
<text transform="translate(117.97,635) rotate(-90)" text-anchor="end" font-size="12.8" textLength="13.9" lengthAdjust="spacingAndGlyphs">T8</text>
<text transform="translate(143.66,635) rotate(-90)" text-anchor="end" font-size="12.8" textLength="20.9" lengthAdjust="spacingAndGlyphs">T14</text>
<text transform="translate(169.35,635) rotate(-90)" text-anchor="end" font-size="12.8" textLength="20.9" lengthAdjust="spacingAndGlyphs">T18</text>
<text transform="translate(195.04,635) rotate(-90)" text-anchor="end" font-size="12.8" textLength="20.9" lengthAdjust="spacingAndGlyphs">T24</text>
<text transform="translate(220.73,635) rotate(-90)" text-anchor="end" font-size="12.8" textLength="20.9" lengthAdjust="spacingAndGlyphs">T38</text>
<rect x="253.7" y="634.6" width="8" height="43.4" fill="#fbf4ab"/>
<rect x="331.46" y="659.3" width="8" height="18.7" fill="#fbf4ab"/>
<rect x="357.18" y="634.6" width="8" height="43.4" fill="#fbf4ab"/>
<rect x="382.9" y="665.8" width="8" height="12.2" fill="#fbf4ab"/>
<rect x="434.34" y="634.6" width="8" height="43.4" fill="#fbf4ab"/>
<line x1="251.9" y1="678" x2="446.73" y2="678" stroke="#e6e6e6" stroke-width="1"/>
<path d="M256.84,634.6 C262.34,634.6 275.54,678 284.33,678 L305.14,678 C322.82,678 349.33,634.6 360.38,634.6 C369.57,634.6 391.65,678 406.36,678 L407.9,678 C417.52,678 431.95,634.6 437.96,634.6" fill="none" stroke="#f6bd9c" stroke-width="1.0"/>
<text transform="translate(263.6,635) rotate(-90)" text-anchor="end" font-size="12.8" textLength="43" lengthAdjust="spacingAndGlyphs">Tmin10</text>
<text transform="translate(289.29,635) rotate(-90)" text-anchor="end" font-size="12.8" textLength="13.9" lengthAdjust="spacingAndGlyphs">T0</text>
<text transform="translate(314.98,635) rotate(-90)" text-anchor="end" font-size="12.8" textLength="13.9" lengthAdjust="spacingAndGlyphs">T4</text>
<text transform="translate(340.67,635) rotate(-90)" text-anchor="end" font-size="12.8" textLength="13.9" lengthAdjust="spacingAndGlyphs">T8</text>
<text transform="translate(366.36,635) rotate(-90)" text-anchor="end" font-size="12.8" textLength="20.9" lengthAdjust="spacingAndGlyphs">T14</text>
<text transform="translate(392.05,635) rotate(-90)" text-anchor="end" font-size="12.8" textLength="20.9" lengthAdjust="spacingAndGlyphs">T18</text>
<text transform="translate(417.74,635) rotate(-90)" text-anchor="end" font-size="12.8" textLength="20.9" lengthAdjust="spacingAndGlyphs">T24</text>
<text transform="translate(443.43,635) rotate(-90)" text-anchor="end" font-size="12.8" textLength="20.9" lengthAdjust="spacingAndGlyphs">T38</text>
<rect x="476.3" y="634.6" width="8" height="43.4" fill="#fbf4ab"/>
<rect x="554.06" y="659.3" width="8" height="18.7" fill="#fbf4ab"/>
<rect x="579.78" y="634.6" width="8" height="43.4" fill="#fbf4ab"/>
<rect x="605.5" y="665.8" width="8" height="12.2" fill="#fbf4ab"/>
<rect x="656.94" y="634.6" width="8" height="43.4" fill="#fbf4ab"/>
<line x1="474.5" y1="678" x2="669.33" y2="678" stroke="#e6e6e6" stroke-width="1"/>
<path d="M479.44,634.6 C484.94,634.6 498.14,678 506.93,678 L527.74,678 C545.42,678 571.93,634.6 582.98,634.6 C592.17,634.6 614.25,678 628.96,678 L630.5,678 C640.12,678 654.55,634.6 660.56,634.6" fill="none" stroke="#f6bd9c" stroke-width="1.0"/>
<text transform="translate(486.2,635) rotate(-90)" text-anchor="end" font-size="12.8" textLength="43" lengthAdjust="spacingAndGlyphs">Tmin10</text>
<text transform="translate(511.89,635) rotate(-90)" text-anchor="end" font-size="12.8" textLength="13.9" lengthAdjust="spacingAndGlyphs">T0</text>
<text transform="translate(537.58,635) rotate(-90)" text-anchor="end" font-size="12.8" textLength="13.9" lengthAdjust="spacingAndGlyphs">T4</text>
<text transform="translate(563.27,635) rotate(-90)" text-anchor="end" font-size="12.8" textLength="13.9" lengthAdjust="spacingAndGlyphs">T8</text>
<text transform="translate(588.96,635) rotate(-90)" text-anchor="end" font-size="12.8" textLength="20.9" lengthAdjust="spacingAndGlyphs">T14</text>
<text transform="translate(614.65,635) rotate(-90)" text-anchor="end" font-size="12.8" textLength="20.9" lengthAdjust="spacingAndGlyphs">T18</text>
<text transform="translate(640.34,635) rotate(-90)" text-anchor="end" font-size="12.8" textLength="20.9" lengthAdjust="spacingAndGlyphs">T24</text>
<text transform="translate(666.03,635) rotate(-90)" text-anchor="end" font-size="12.8" textLength="20.9" lengthAdjust="spacingAndGlyphs">T38</text>
<g stroke="#e6e6e6" stroke-width="0.9">
<line x1="17.2" y1="629.6" x2="682.4" y2="629.6"/>
<line x1="17.2" y1="608.2" x2="682.4" y2="608.2"/>
<line x1="17.2" y1="586.8" x2="682.4" y2="586.8"/>
<line x1="17.2" y1="565.4" x2="682.4" y2="565.4"/>
<line x1="17.2" y1="544" x2="682.4" y2="544"/>
<line x1="17.2" y1="522.6" x2="682.4" y2="522.6"/>
</g>
<g class="lab" font-size="10.4" text-anchor="middle">
<text x="10.7" y="633.5">0</text>
<text x="10.7" y="612.1">0.2</text>
<text x="10.7" y="590.7">0.4</text>
<text x="10.7" y="569.3">0.6</text>
<text x="10.7" y="547.9">0.8</text>
<text x="10.7" y="526.5">1</text>
</g>
<g>
<rect x="26.1" y="578.77" width="10" height="50.82" fill="#000"/>
<rect x="38.7" y="557.59" width="10" height="72.01" fill="#00b050"/>
<rect x="51.5" y="583.7" width="10" height="45.9" fill="#000"/>
<rect x="64.1" y="522.6" width="10" height="107" fill="#00b050"/>
<rect x="76.9" y="599.32" width="10" height="30.28" fill="#000"/>
<rect x="89.5" y="554.7" width="10" height="74.9" fill="#00b050"/>
<rect x="102.3" y="604.03" width="10" height="25.57" fill="#000"/>
<rect x="114.9" y="544.21" width="10" height="85.39" fill="#00b050"/>
<rect x="127.7" y="618.37" width="10" height="11.23" fill="#000"/>
<rect x="140.3" y="575.03" width="10" height="54.57" fill="#00b050"/>
<rect x="153.1" y="610.13" width="10" height="19.47" fill="#000"/>
<rect x="165.7" y="590.33" width="10" height="39.27" fill="#00b050"/>
<rect x="178.5" y="617.94" width="10" height="11.66" fill="#000"/>
<rect x="191.1" y="587.34" width="10" height="42.27" fill="#00b050"/>
<rect x="203.9" y="621.58" width="10" height="8.03" fill="#000"/>
<rect x="216.5" y="609.27" width="10" height="20.33" fill="#00b050"/>
<rect x="248.4" y="574.6" width="10" height="55" fill="#000"/>
<rect x="261" y="539.61" width="10" height="89.99" fill="#00b050"/>
<rect x="273.8" y="578.24" width="10" height="51.36" fill="#000"/>
<rect x="286.4" y="522.6" width="10" height="107" fill="#00b050"/>
<rect x="299.2" y="589.9" width="10" height="39.7" fill="#000"/>
<rect x="311.8" y="542.93" width="10" height="86.67" fill="#00b050"/>
<rect x="324.6" y="585.84" width="10" height="43.76" fill="#000"/>
<rect x="337.2" y="530.09" width="10" height="99.51" fill="#00b050"/>
<rect x="350" y="597.29" width="10" height="32.31" fill="#000"/>
<rect x="362.6" y="531.05" width="10" height="98.55" fill="#00b050"/>
<rect x="375.4" y="581.88" width="10" height="47.72" fill="#000"/>
<rect x="388" y="549.03" width="10" height="80.57" fill="#00b050"/>
<rect x="400.8" y="592.79" width="10" height="36.81" fill="#000"/>
<rect x="413.4" y="542.29" width="10" height="87.31" fill="#00b050"/>
<rect x="426.2" y="591.08" width="10" height="38.52" fill="#000"/>
<rect x="438.8" y="560.05" width="10" height="69.55" fill="#00b050"/>
<rect x="470.8" y="553.1" width="10" height="76.5" fill="#000"/>
<rect x="483.4" y="611.62" width="10" height="17.98" fill="#00b050"/>
<rect x="496.2" y="522.6" width="10" height="107" fill="#000"/>
<rect x="508.8" y="622" width="10" height="7.6" fill="#00b050"/>
<rect x="521.6" y="579.52" width="10" height="50.08" fill="#000"/>
<rect x="534.2" y="626.28" width="10" height="3.32" fill="#00b050"/>
<rect x="547" y="587.34" width="10" height="42.27" fill="#000"/>
<rect x="559.6" y="627.46" width="10" height="2.14" fill="#00b050"/>
<rect x="572.4" y="610.13" width="10" height="19.47" fill="#000"/>
<rect x="585" y="625.86" width="10" height="3.75" fill="#00b050"/>
<rect x="597.8" y="604.99" width="10" height="24.61" fill="#000"/>
<rect x="610.4" y="625.11" width="10" height="4.49" fill="#00b050"/>
<rect x="623.2" y="617.08" width="10" height="12.52" fill="#000"/>
<rect x="635.8" y="626.6" width="10" height="3" fill="#00b050"/>
<rect x="648.6" y="613.23" width="10" height="16.37" fill="#000"/>
<rect x="661.2" y="625.53" width="10" height="4.07" fill="#00b050"/>
</g>
<text x="83.6" y="673.2" font-size="13.2" textLength="87.2" lengthAdjust="spacingAndGlyphs">Diacylglycerols</text>
<text x="293.8" y="677.0" font-size="13.2" textLength="110.8" lengthAdjust="spacingAndGlyphs">Monoacylglycerols</text>
<text x="524.8" y="675.4" font-size="13.2" textLength="89.0" lengthAdjust="spacingAndGlyphs">Triacylglycerols</text>
</svg></body></html>
